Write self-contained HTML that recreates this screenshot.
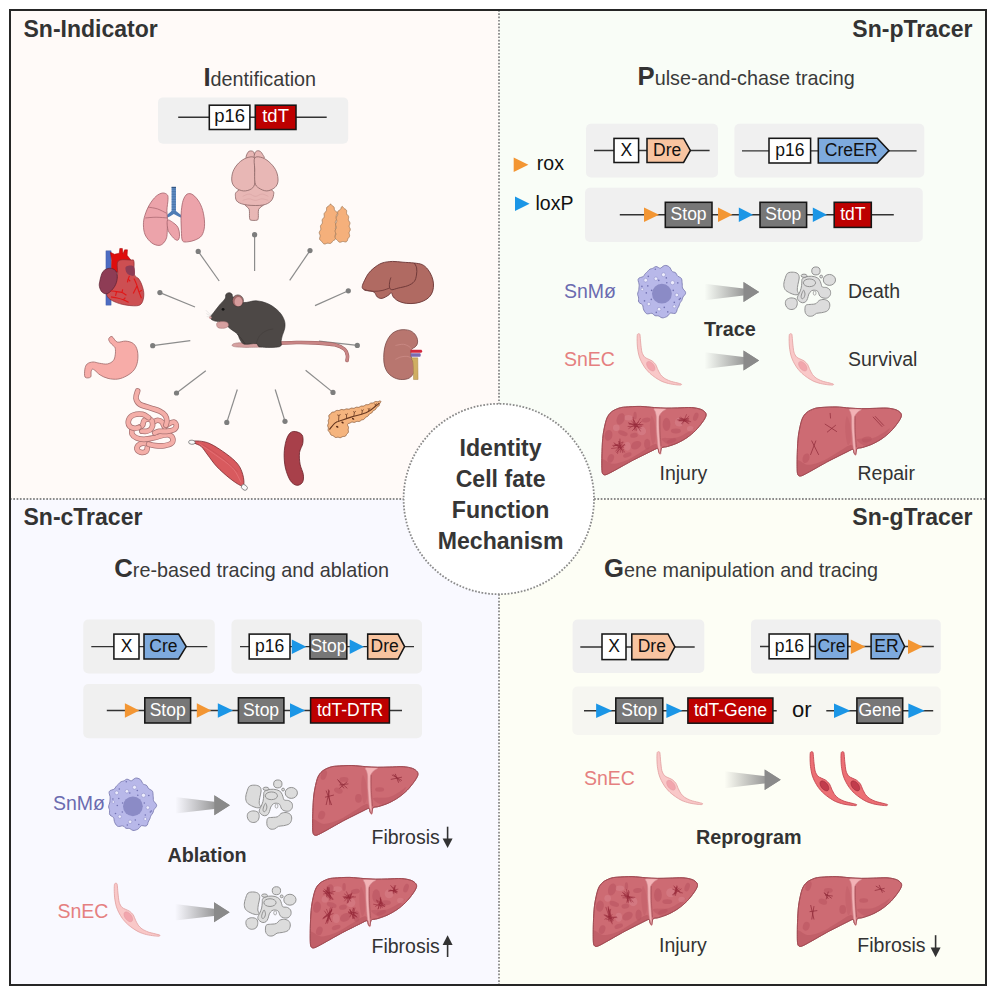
<!DOCTYPE html><html><head><meta charset="utf-8"><title>Sn tracers</title><style>html,body{margin:0;padding:0;background:#fff;width:996px;height:996px;overflow:hidden}svg{display:block}text{font-family:"Liberation Sans",sans-serif}</style></head><body>
<svg width="996" height="996" viewBox="0 0 996 996">
<defs>
<linearGradient id="ga" x1="0" x2="1" y1="0" y2="0"><stop offset="0" stop-color="#8a8a8a" stop-opacity="0"/><stop offset="0.75" stop-color="#8a8a8a" stop-opacity="0.85"/><stop offset="1" stop-color="#888"/></linearGradient>
<g id="macro"><path d="M49.04,26.3 C49.25,26.76 49.38,27.26 49.33,27.73 C49.28,28.2 49.01,28.67 48.74,29.1 C48.46,29.54 48.01,29.94 47.67,30.34 C47.34,30.74 46.99,31.11 46.75,31.5 C46.5,31.9 46.37,32.3 46.23,32.71 C46.09,33.12 46.04,33.55 45.91,33.96 C45.77,34.36 45.63,34.77 45.43,35.14 C45.23,35.52 44.94,35.86 44.69,36.2 C44.44,36.54 44.14,36.85 43.92,37.2 C43.69,37.54 43.51,37.9 43.35,38.29 C43.19,38.67 43.1,39.1 42.97,39.51 C42.84,39.92 42.72,40.36 42.56,40.75 C42.39,41.15 42.18,41.52 41.97,41.89 C41.77,42.27 41.53,42.61 41.33,43.01 C41.14,43.41 40.98,43.83 40.82,44.29 C40.67,44.76 40.58,45.31 40.42,45.79 C40.25,46.27 40.1,46.81 39.83,47.18 C39.56,47.54 39.21,47.84 38.78,47.99 C38.36,48.13 37.81,48.09 37.29,48.05 C36.77,48 36.18,47.78 35.68,47.71 C35.19,47.65 34.72,47.55 34.32,47.64 C33.93,47.72 33.62,47.94 33.31,48.21 C32.99,48.49 32.75,48.93 32.46,49.3 C32.16,49.66 31.88,50.09 31.55,50.4 C31.22,50.72 30.86,50.98 30.49,51.2 C30.12,51.42 29.72,51.56 29.33,51.72 C28.94,51.87 28.54,52.02 28.14,52.14 C27.73,52.26 27.32,52.4 26.91,52.45 C26.49,52.49 26.07,52.5 25.65,52.4 C25.23,52.3 24.81,52.08 24.4,51.86 C23.99,51.63 23.6,51.29 23.22,51.06 C22.83,50.84 22.46,50.6 22.08,50.49 C21.7,50.37 21.32,50.37 20.92,50.36 C20.53,50.35 20.11,50.46 19.72,50.43 C19.33,50.4 18.92,50.35 18.56,50.18 C18.2,50.01 17.87,49.7 17.55,49.41 C17.23,49.12 16.96,48.71 16.64,48.45 C16.32,48.19 16.02,47.96 15.63,47.87 C15.25,47.79 14.81,47.86 14.34,47.93 C13.87,48.01 13.31,48.23 12.8,48.32 C12.28,48.41 11.72,48.52 11.25,48.48 C10.78,48.43 10.35,48.28 9.97,48.06 C9.6,47.83 9.29,47.48 9,47.13 C8.71,46.79 8.47,46.38 8.23,45.98 C7.99,45.58 7.75,45.18 7.56,44.75 C7.37,44.32 7.19,43.87 7.07,43.4 C6.94,42.93 6.88,42.41 6.8,41.92 C6.72,41.43 6.7,40.91 6.58,40.48 C6.46,40.05 6.33,39.66 6.07,39.34 C5.82,39.02 5.44,38.79 5.05,38.54 C4.66,38.29 4.13,38.11 3.73,37.84 C3.33,37.57 2.89,37.28 2.63,36.92 C2.37,36.56 2.23,36.11 2.16,35.65 C2.09,35.2 2.19,34.68 2.22,34.2 C2.25,33.72 2.35,33.23 2.34,32.78 C2.32,32.33 2.24,31.91 2.12,31.49 C2.01,31.07 1.79,30.67 1.66,30.25 C1.53,29.82 1.37,29.39 1.34,28.96 C1.31,28.52 1.37,28.06 1.47,27.62 C1.57,27.17 1.78,26.73 1.93,26.3 C2.08,25.87 2.26,25.45 2.37,25.03 C2.47,24.62 2.53,24.2 2.57,23.79 C2.62,23.37 2.61,22.95 2.64,22.52 C2.67,22.1 2.71,21.68 2.75,21.26 C2.79,20.83 2.87,20.42 2.87,19.98 C2.87,19.54 2.85,19.09 2.76,18.6 C2.67,18.1 2.48,17.56 2.33,17.02 C2.18,16.47 1.93,15.85 1.86,15.3 C1.79,14.76 1.75,14.19 1.91,13.74 C2.07,13.3 2.4,12.92 2.8,12.64 C3.21,12.35 3.81,12.2 4.33,12.02 C4.85,11.85 5.46,11.77 5.92,11.59 C6.38,11.41 6.78,11.22 7.11,10.96 C7.43,10.69 7.64,10.34 7.87,9.99 C8.11,9.65 8.28,9.24 8.51,8.89 C8.75,8.55 9.01,8.22 9.29,7.92 C9.57,7.62 9.9,7.37 10.21,7.1 C10.51,6.82 10.82,6.56 11.11,6.26 C11.4,5.96 11.66,5.61 11.95,5.29 C12.23,4.97 12.51,4.61 12.83,4.34 C13.15,4.07 13.5,3.84 13.87,3.67 C14.25,3.49 14.66,3.42 15.06,3.31 C15.45,3.2 15.86,3.14 16.23,2.99 C16.61,2.84 16.96,2.64 17.32,2.42 C17.67,2.2 18.01,1.87 18.38,1.66 C18.74,1.46 19.12,1.24 19.53,1.19 C19.93,1.14 20.37,1.23 20.8,1.39 C21.22,1.54 21.67,1.89 22.08,2.11 C22.49,2.34 22.89,2.65 23.27,2.74 C23.66,2.84 24.02,2.82 24.4,2.67 C24.78,2.52 25.16,2.17 25.57,1.86 C25.98,1.55 26.41,1.11 26.84,0.82 C27.28,0.54 27.74,0.28 28.18,0.15 C28.62,0.02 29.07,0.01 29.5,0.04 C29.92,0.06 30.34,0.19 30.75,0.32 C31.16,0.45 31.57,0.61 31.96,0.81 C32.34,1.02 32.73,1.25 33.06,1.57 C33.4,1.89 33.71,2.29 33.98,2.72 C34.26,3.15 34.47,3.69 34.7,4.15 C34.94,4.6 35.12,5.1 35.38,5.45 C35.65,5.81 35.93,6.08 36.27,6.28 C36.61,6.47 37.03,6.53 37.43,6.65 C37.83,6.77 38.3,6.82 38.67,7 C39.04,7.18 39.38,7.42 39.65,7.74 C39.93,8.05 40.1,8.49 40.31,8.87 C40.51,9.26 40.64,9.71 40.87,10.05 C41.1,10.4 41.37,10.69 41.71,10.94 C42.06,11.19 42.51,11.34 42.93,11.55 C43.34,11.76 43.84,11.94 44.21,12.21 C44.58,12.48 44.91,12.8 45.14,13.18 C45.37,13.56 45.48,14.03 45.57,14.48 C45.66,14.94 45.66,15.44 45.69,15.91 C45.73,16.38 45.75,16.85 45.79,17.31 C45.82,17.76 45.89,18.2 45.92,18.64 C45.95,19.08 45.98,19.52 45.99,19.96 C46,20.4 45.96,20.84 46,21.27 C46.03,21.7 46.05,22.11 46.2,22.52 C46.35,22.92 46.6,23.3 46.9,23.71 C47.2,24.11 47.67,24.51 48.02,24.94 C48.38,25.38 48.82,25.84 49.04,26.3Z" fill="#b8b8e9" stroke="#7e7eb2" stroke-width="0.9"/><circle cx="25.6" cy="28.3" r="9.9" fill="#8b8bc6"/><circle cx="9.4" cy="14.8" r="1.9" fill="#ececfc" stroke="#9595cc" stroke-width="0.6"/><circle cx="19.6" cy="13.3" r="1.8" fill="#ececfc" stroke="#9595cc" stroke-width="0.6"/><circle cx="27.2" cy="9.3" r="2.0" fill="#ececfc" stroke="#9595cc" stroke-width="0.6"/><circle cx="36.2" cy="17.3" r="2.1" fill="#ececfc" stroke="#9595cc" stroke-width="0.6"/><circle cx="40.5" cy="29.6" r="1.8" fill="#ececfc" stroke="#9595cc" stroke-width="0.6"/><circle cx="12.5" cy="38.6" r="1.7" fill="#ececfc" stroke="#9595cc" stroke-width="0.6"/><circle cx="22.8" cy="43.8" r="1.8" fill="#ececfc" stroke="#9595cc" stroke-width="0.6"/><circle cx="38" cy="41" r="1.5" fill="#ececfc" stroke="#9595cc" stroke-width="0.6"/><circle cx="6" cy="24" r="1.3" fill="#ececfc" stroke="#9595cc" stroke-width="0.6"/><circle cx="19" cy="3.8" r="0.8" fill="#7373b3"/><circle cx="12" cy="11" r="0.8" fill="#7373b3"/><circle cx="22.5" cy="15" r="0.8" fill="#7373b3"/><circle cx="30" cy="12.5" r="0.8" fill="#7373b3"/><circle cx="30.5" cy="17.3" r="0.8" fill="#7373b3"/><circle cx="41.5" cy="17.5" r="0.8" fill="#7373b3"/><circle cx="5.6" cy="21" r="0.8" fill="#7373b3"/><circle cx="11.5" cy="20.5" r="0.8" fill="#7373b3"/><circle cx="10" cy="27.5" r="0.8" fill="#7373b3"/><circle cx="37" cy="25" r="0.8" fill="#7373b3"/><circle cx="43" cy="34" r="0.8" fill="#7373b3"/><circle cx="38" cy="37" r="0.8" fill="#7373b3"/><circle cx="8.2" cy="35.5" r="0.8" fill="#7373b3"/><circle cx="15" cy="34" r="0.8" fill="#7373b3"/><circle cx="28" cy="42" r="0.8" fill="#7373b3"/><circle cx="20" cy="47" r="0.8" fill="#7373b3"/><circle cx="31.5" cy="46.5" r="0.8" fill="#7373b3"/><circle cx="44" cy="33" r="0.8" fill="#7373b3"/><circle cx="15.3" cy="25" r="0.8" fill="#7373b3"/></g>
<g id="ecp"><path d="M8.43,5.72 C8.78,5.71 9.63,5.38 9.94,6.63 C10.24,7.87 10.46,12.73 10.72,15.06 C10.99,17.39 11.43,22.25 11.93,24.1 C12.43,25.94 13.68,28.02 14.46,28.92 C15.24,29.82 16.77,30.32 17.77,30.84 C18.78,31.37 20.94,32.08 21.99,32.83 C23.03,33.58 24.82,35.28 25.6,36.45 C26.38,37.61 27.19,40.24 27.83,41.57 C28.47,42.89 29.59,45.26 30.42,46.39 C31.25,47.51 32.75,49.12 34.04,50 C35.32,50.88 38.33,52.37 40.06,53.01 C41.79,53.65 45.49,54.42 46.99,54.82 C48.49,55.22 50.84,55.73 51.33,56.02 C51.81,56.32 51.34,56.95 50.6,57.05 C49.86,57.14 47.39,56.95 45.78,56.75 C44.18,56.55 40.48,56.02 38.55,55.54 C36.63,55.06 33.09,53.94 31.33,53.13 C29.56,52.33 26.83,50.56 25.3,49.52 C23.78,48.47 21.24,46.59 19.88,45.3 C18.51,44.02 16.18,41.41 15.06,39.88 C13.94,38.35 12.25,35.46 11.45,33.86 C10.64,32.25 9.56,29.69 9.04,27.83 C8.51,25.97 7.79,21.98 7.53,19.88 C7.27,17.78 7.13,13.8 7.11,12.05 C7.08,10.3 7.17,7.59 7.35,6.75 C7.53,5.9 8.09,5.74 8.43,5.72Z" fill="#f9c8c8" stroke="#e2a0a0" stroke-width="0.8"/><ellipse cx="20.78" cy="38.25" rx="3.13" ry="5.54" transform="rotate(-38 20.78 38.25)" fill="#f2a6ad" stroke="#e49aa2" stroke-width="0.5"/></g>
<g id="ecr"><path d="M8.43,5.72 C8.78,5.71 9.63,5.38 9.94,6.63 C10.24,7.87 10.46,12.73 10.72,15.06 C10.99,17.39 11.43,22.25 11.93,24.1 C12.43,25.94 13.68,28.02 14.46,28.92 C15.24,29.82 16.77,30.32 17.77,30.84 C18.78,31.37 20.94,32.08 21.99,32.83 C23.03,33.58 24.82,35.28 25.6,36.45 C26.38,37.61 27.19,40.24 27.83,41.57 C28.47,42.89 29.59,45.26 30.42,46.39 C31.25,47.51 32.75,49.12 34.04,50 C35.32,50.88 38.33,52.37 40.06,53.01 C41.79,53.65 45.49,54.42 46.99,54.82 C48.49,55.22 50.84,55.73 51.33,56.02 C51.81,56.32 51.34,56.95 50.6,57.05 C49.86,57.14 47.39,56.95 45.78,56.75 C44.18,56.55 40.48,56.02 38.55,55.54 C36.63,55.06 33.09,53.94 31.33,53.13 C29.56,52.33 26.83,50.56 25.3,49.52 C23.78,48.47 21.24,46.59 19.88,45.3 C18.51,44.02 16.18,41.41 15.06,39.88 C13.94,38.35 12.25,35.46 11.45,33.86 C10.64,32.25 9.56,29.69 9.04,27.83 C8.51,25.97 7.79,21.98 7.53,19.88 C7.27,17.78 7.13,13.8 7.11,12.05 C7.08,10.3 7.17,7.59 7.35,6.75 C7.53,5.9 8.09,5.74 8.43,5.72Z" fill="#ec6f74" stroke="#c0424c" stroke-width="0.8"/><ellipse cx="20.78" cy="38.25" rx="3.13" ry="5.54" transform="rotate(-38 20.78 38.25)" fill="#c23c4c" stroke="#962a38" stroke-width="0.5"/></g>
<g id="dead"><path d="M9.64,13.17 C11.03,12.1 13.71,12.1 15.42,12.21 C17.14,12.32 18.96,12.85 19.92,13.82 C20.89,14.78 21.21,16.23 21.21,17.99 C21.21,19.76 20.24,22.39 19.92,24.42 C19.6,26.46 19.17,28.6 19.28,30.21 C19.39,31.81 20.99,33.31 20.57,34.06 C20.14,34.81 18.21,34.92 16.71,34.7 C15.21,34.49 13.17,33.63 11.57,32.78 C9.96,31.92 8.03,30.96 7.07,29.56 C6.11,28.17 5.78,26.24 5.78,24.42 C5.78,22.6 6.43,20.51 7.07,18.64 C7.71,16.76 8.25,14.25 9.64,13.17Z" fill="#dcdcdc" stroke="#929292" stroke-width="1.0"/><path d="M8.35,39.85 C9.27,38.88 11.25,38.02 12.85,37.92 C14.46,37.81 16.92,38.24 17.99,39.2 C19.07,40.17 19.39,42.2 19.28,43.7 C19.17,45.2 18.42,47.24 17.35,48.2 C16.28,49.16 14.25,49.59 12.85,49.49 C11.46,49.38 9.91,48.52 9,47.56 C8.09,46.59 7.5,44.99 7.39,43.7 C7.28,42.42 7.44,40.81 8.35,39.85Z" fill="#dcdcdc" stroke="#929292" stroke-width="1.0"/><path d="M24.42,18.64 C25.49,17.51 28.17,16.71 30.21,16.39 C32.24,16.07 34.81,16.23 36.63,16.71 C38.45,17.19 40.06,18.1 41.13,19.28 C42.2,20.46 42.52,22.49 43.06,23.78 C43.59,25.06 43.38,26.35 44.34,26.99 C45.31,27.63 47.56,27.1 48.84,27.63 C50.13,28.17 51.47,29.03 52.06,30.21 C52.65,31.38 52.81,33.42 52.38,34.7 C51.95,35.99 50.72,37.38 49.49,37.92 C48.25,38.45 46.27,38.24 44.99,37.92 C43.7,37.6 42.63,37.06 41.77,35.99 C40.92,34.92 40.7,32.46 39.85,31.49 C38.99,30.53 37.7,30.31 36.63,30.21 C35.56,30.1 34.38,30.21 33.42,30.85 C32.46,31.49 31.49,32.78 30.85,34.06 C30.21,35.35 30.1,37.28 29.56,38.56 C29.03,39.85 28.49,41.08 27.63,41.77 C26.78,42.47 25.49,42.84 24.42,42.74 C23.35,42.63 22.07,41.93 21.21,41.13 C20.35,40.33 19.28,39.2 19.28,37.92 C19.28,36.63 20.57,35.03 21.21,33.42 C21.85,31.81 22.71,29.99 23.14,28.28 C23.56,26.56 23.56,24.74 23.78,23.14 C23.99,21.53 23.35,19.76 24.42,18.64Z" fill="#dcdcdc" stroke="#929292" stroke-width="1.0"/><ellipse cx="31.49" cy="22.81" rx="6.11" ry="3.86" fill="none" stroke="#929292" stroke-width="1.0"/><path d="M25.71,30.21 C26.14,30.53 26.99,32.78 26.99,34.06 C26.99,35.35 26.24,37.17 25.71,37.92 C25.17,38.67 24.21,38.88 23.78,38.56 C23.35,38.24 23.03,37.06 23.14,35.99 C23.24,34.92 23.99,33.1 24.42,32.13 C24.85,31.17 25.28,29.88 25.71,30.21Z" fill="none" stroke="#929292" stroke-width="1.0"/><ellipse cx="36.63" cy="33.10" rx="1.41" ry="2.06" fill="none" stroke="#9b9b9b" stroke-width="0.8"/><ellipse cx="37.92" cy="10.93" rx="4.18" ry="3.98" fill="#dcdcdc" stroke="#929292" stroke-width="1.0"/><ellipse cx="51.41" cy="19.92" rx="6.11" ry="5.46" fill="#dcdcdc" stroke="#929292" stroke-width="1.0"/><ellipse cx="43.19" cy="16.58" rx="1.41" ry="1.41" fill="#dcdcdc" stroke="#929292" stroke-width="1.0"/><ellipse cx="26.03" cy="15.75" rx="2.89" ry="1.61" fill="#dcdcdc" stroke="#929292" stroke-width="1.0"/><path d="M28.28,44.99 C29.35,44.34 31.81,44.56 33.42,44.34 C35.03,44.13 36.63,44.34 37.92,43.7 C39.2,43.06 39.74,41.18 41.13,40.49 C42.52,39.79 44.67,39.31 46.27,39.52 C47.88,39.74 49.86,40.65 50.77,41.77 C51.68,42.9 51.95,44.77 51.74,46.27 C51.52,47.77 50.82,49.7 49.49,50.77 C48.15,51.84 45.52,52.27 43.7,52.7 C41.88,53.13 40.06,52.81 38.56,53.34 C37.06,53.88 36.1,55.48 34.7,55.91 C33.31,56.34 31.44,56.45 30.21,55.91 C28.97,55.38 27.85,53.98 27.31,52.7 C26.78,51.41 26.83,49.49 26.99,48.2 C27.15,46.92 27.21,45.63 28.28,44.99Z" fill="#dcdcdc" stroke="#929292" stroke-width="1.0"/></g>
<linearGradient id="garr" x1="0" x2="1" y1="0" y2="0"><stop offset="0" stop-color="#8c8c8c" stop-opacity="0"/><stop offset="0.7" stop-color="#8c8c8c" stop-opacity="0.85"/><stop offset="1" stop-color="#888"/></linearGradient>
<g id="garrow"><path d="M0,-8.3 L39,-3.6 L39,-10 L54.6,0 L39,10 L39,3.6 L0,8.3Z" fill="url(#garr)"/><path d="M39,-10 L54.6,0 L39,10Z" fill="#8a8a8a"/></g>
<path id="livsil" d="M9.47,4.97 C11.32,3.34 14.84,1.9 16.97,1.15 C19.11,0.41 20.42,0.26 23.67,0 C26.93,-0.26 34.35,-0.66 38.68,-0.58 C43.01,-0.49 48.73,0.32 52.54,0.58 C56.35,0.84 60.62,1.1 64.09,1.15 C67.55,1.21 71.82,1.01 75.64,0.92 C79.45,0.84 86.03,0.37 89.49,0.58 C92.96,0.79 96.65,1.56 98.73,2.31 C100.81,3.05 102.57,4.5 103.35,5.54 C104.13,6.58 104.36,7.77 103.93,9.24 C103.49,10.71 102.02,13.18 100.46,15.36 C98.9,17.54 95.85,21.45 93.53,23.79 C91.21,26.13 87.74,29.04 84.99,30.95 C82.23,32.85 78.12,35.14 75.17,36.49 C72.23,37.84 67.63,39.28 65.36,39.95 C63.09,40.63 61.02,40.4 60.05,40.99 C59.08,41.58 59.19,42.98 58.89,43.88 C58.6,44.78 58.41,46.79 58.08,47 C57.75,47.21 57.08,46.05 56.7,45.27 C56.32,44.49 56.69,41.89 55.54,41.8 C54.4,41.71 51.26,43.65 49.08,44.69 C46.89,45.73 43.59,47.43 40.99,48.73 C38.39,50.03 34.7,51.79 31.76,53.35 C28.81,54.91 24.31,57.48 21.36,59.12 C18.42,60.77 14.72,62.93 12.12,64.32 C9.53,65.7 5.74,67.88 4.04,68.36 C2.34,68.85 1.43,68.45 0.81,67.55 C0.18,66.65 0.01,65.73 -0.12,62.36 C-0.24,58.98 -0.19,50.23 0,45.03 C0.19,39.84 0.46,32.67 1.15,27.71 C1.85,22.76 3.37,15.42 4.62,12.01 C5.87,8.6 7.62,6.59 9.47,4.97Z"/>
<clipPath id="livclip"><use href="#livsil"/></clipPath>
<g id="liver"><use href="#livsil" fill="#cd6b73" stroke="#a04a52" stroke-width="0.8"/><g clip-path="url(#livclip)"><path d="M-1.2,52.93 C0.79,50.61 6.81,57.35 10.95,57.35 C15.09,57.35 22.11,54.75 26.42,52.93 C30.72,51.11 35.69,47.52 39.67,45.2 C43.64,42.88 50.6,37.97 52.92,37.47 C55.24,36.97 57.12,39.57 55.13,41.89 C53.14,44.21 44.64,49.62 39.67,52.93 C34.7,56.24 27.3,60.99 22,63.97 C16.7,66.96 7.97,71.48 4.33,72.81 C0.68,74.13 -1.47,75.79 -2.3,72.81 C-3.13,69.83 -3.18,55.25 -1.2,52.93Z" fill="#b8555f" opacity="0.55"/><path d="M49.61,8.75 C50.35,8.75 52.34,14.11 52.92,17.59 C53.5,21.07 53.8,28.96 53.47,31.95 C53.14,34.93 51.46,37.97 50.71,37.47 C49.97,36.97 48.92,31.61 48.5,28.63 C48.09,25.65 47.79,20.57 47.95,17.59 C48.12,14.61 48.86,8.75 49.61,8.75Z" fill="#b8555f" opacity="0.3"/><path d="M59.55,31.95 C60.38,30.79 71.03,31.84 75.01,30.84 C78.99,29.85 83.4,26.81 86.05,25.32 C88.7,23.83 93.01,19.91 92.68,20.9 C92.35,21.9 87.32,29.3 83.85,31.95 C80.37,34.6 73.13,38.57 69.49,38.57 C65.84,38.57 58.72,33.11 59.55,31.95Z" fill="#b8555f" opacity="0.45"/></g><path d="M52.37,1.57 C53.8,1.16 62.93,1.35 63.97,1.8 C65,2.24 61.01,3.81 60.1,4.89 C59.19,5.96 57.52,7.43 57.12,9.86 C56.72,12.29 56.97,19.13 57.12,23.11 C57.27,27.09 57.97,36.56 58.22,39.68 C58.47,42.8 59.01,45.45 59,46.52 C58.98,47.6 58.36,47.74 58.11,47.74 C57.86,47.74 57.41,47.6 57.12,46.52 C56.82,45.45 56.24,42.8 55.9,39.68 C55.56,36.56 54.8,27.09 54.58,23.11 C54.36,19.13 54.42,12.29 54.25,9.86 C54.07,7.43 53.5,5.99 53.25,4.89 C53,3.78 50.94,1.99 52.37,1.57Z" fill="#f3b3b6" stroke="#d08a90" stroke-width="0.6"/><use href="#livsil" fill="none" stroke="#a04a52" stroke-width="0.9"/><path d="M57.89,8.75 C57.91,11.33 57.8,19.06 58,24.22 C58.2,29.37 58.92,37.1 59.11,39.68" fill="none" stroke="#a85058" stroke-width="0.7"/></g>
</defs>
<rect x="10" y="10" width="489" height="489" fill="#fffaf8"/>
<rect x="499" y="10" width="486.5" height="489" fill="#f9fdf7"/>
<rect x="10" y="499" width="489" height="486.5" fill="#f9f9ff"/>
<rect x="499" y="499" width="486.5" height="486.5" fill="#fdfef5"/>
<line x1="499" y1="10" x2="499" y2="985" stroke="#8a8a8a" stroke-width="1.8" stroke-dasharray="1.7 1.6"/>
<line x1="10" y1="499" x2="985" y2="499" stroke="#8a8a8a" stroke-width="1.8" stroke-dasharray="1.7 1.6"/>
<rect x="10" y="10" width="976" height="975" fill="none" stroke="#262626" stroke-width="2"/>
<circle cx="498.8" cy="499" r="95.2" fill="#fff" stroke="#8a8a8a" stroke-width="1.8" stroke-dasharray="1.7 1.6"/>
<text x="500.6" y="456.3" font-size="23.1" font-weight="bold" fill="#363636" text-anchor="middle">Identity</text>
<text x="500.6" y="487.2" font-size="23.1" font-weight="bold" fill="#363636" text-anchor="middle">Cell fate</text>
<text x="500.6" y="518.3" font-size="23.1" font-weight="bold" fill="#363636" text-anchor="middle">Function</text>
<text x="500.6" y="549.0" font-size="23.1" font-weight="bold" fill="#363636" text-anchor="middle">Mechanism</text>
<text x="23.5" y="36.8" font-size="23" font-weight="bold" fill="#333333">Sn-Indicator</text>
<text x="972.5" y="37.4" font-size="23" font-weight="bold" fill="#333333" text-anchor="end">Sn-pTracer</text>
<text x="23.5" y="524.5" font-size="23" font-weight="bold" fill="#333333">Sn-cTracer</text>
<text x="972.5" y="524.6" font-size="23" font-weight="bold" fill="#333333" text-anchor="end">Sn-gTracer</text>
<text x="203.4" y="85.5" fill="#3a3a3a"><tspan font-size="25.7" font-weight="bold" fill="#333">I</tspan><tspan font-size="19.8">dentification</tspan></text>
<text x="637.5" y="84.5" fill="#3a3a3a"><tspan font-size="25.7" font-weight="bold" fill="#333">P</tspan><tspan font-size="19.8">ulse-and-chase tracing</tspan></text>
<text x="114.3" y="577.0" fill="#3a3a3a"><tspan font-size="25.7" font-weight="bold" fill="#333">C</tspan><tspan font-size="19.8">re-based tracing and ablation</tspan></text>
<text x="604.0" y="576.6" fill="#3a3a3a"><tspan font-size="25.7" font-weight="bold" fill="#333">G</tspan><tspan font-size="19.8">ene manipulation and tracing</tspan></text>
<rect x="158" y="97.4" width="190.2" height="46.4" rx="5" fill="#f0f0f0"/>
<line x1="178.2" y1="117.3" x2="326.7" y2="117.3" stroke="#333" stroke-width="1.4"/>
<rect x="209.3" y="105.2" width="40.6" height="24.3" fill="#fff" stroke="#161616" stroke-width="1.55"/>
<text x="229.6" y="122.0" font-size="18.5" fill="#111" text-anchor="middle">p16</text>
<rect x="255.3" y="105.2" width="40.7" height="24.3" fill="#bd0000" stroke="#161616" stroke-width="1.55"/>
<text x="275.6" y="122.0" font-size="18.5" fill="#fff" text-anchor="middle">tdT</text>
<rect x="586" y="123.7" width="132.0" height="53.8" rx="5" fill="#f0f0f0"/>
<line x1="594" y1="150.5" x2="709.6" y2="150.5" stroke="#333" stroke-width="1.4"/>
<rect x="614" y="138.4" width="24.6" height="24.1" fill="#fff" stroke="#161616" stroke-width="1.55"/>
<text x="626.3" y="155.8" font-size="17.5" fill="#111" text-anchor="middle">X</text>
<path d="M647,138.4 L683.6,138.4 L690.4,150.45 L683.6,162.5 L647,162.5 Z" fill="#f8c4a0" stroke="#161616" stroke-width="1.55" stroke-linejoin="miter"/>
<text x="667.2" y="155.8" font-size="17.5" fill="#111" text-anchor="middle">Dre</text>
<rect x="734.4" y="123.7" width="189.9" height="53.7" rx="5" fill="#f0f0f0"/>
<line x1="742" y1="150.9" x2="916.6" y2="150.9" stroke="#333" stroke-width="1.4"/>
<rect x="769" y="138.3" width="41.6" height="24.7" fill="#fff" stroke="#161616" stroke-width="1.55"/>
<text x="789.8" y="156.0" font-size="17.5" fill="#111" text-anchor="middle">p16</text>
<path d="M818.3,138.3 L877.3,138.3 L889,150.65 L877.3,163 L818.3,163 Z" fill="#7eaadd" stroke="#161616" stroke-width="1.55" stroke-linejoin="miter"/>
<text x="851.1" y="156.0" font-size="17.5" fill="#111" text-anchor="middle">CreER</text>
<rect x="585" y="187.8" width="337.8" height="54.2" rx="5" fill="#f0f0f0"/>
<line x1="619.8" y1="214.7" x2="893.8" y2="214.7" stroke="#333" stroke-width="1.4"/>
<path d="M644,207.6 L659,214.8 L644,222.0 Z" fill="#f39633"/>
<rect x="665.3" y="202.3" width="46.7" height="25.1" fill="#777" stroke="#161616" stroke-width="1.55"/>
<text x="688.6" y="220.2" font-size="17.5" fill="#fff" text-anchor="middle">Stop</text>
<path d="M718,207.6 L732.5,214.8 L718,222.0 Z" fill="#f39633"/>
<path d="M738.8,207.6 L753,214.8 L738.8,222.0 Z" fill="#1b96e6"/>
<rect x="760" y="202.3" width="46.6" height="25.1" fill="#777" stroke="#161616" stroke-width="1.55"/>
<text x="783.3" y="220.2" font-size="17.5" fill="#fff" text-anchor="middle">Stop</text>
<path d="M812.8,207.6 L827,214.8 L812.8,222.0 Z" fill="#1b96e6"/>
<rect x="834.2" y="202.3" width="37.1" height="25.1" fill="#bd0000" stroke="#161616" stroke-width="1.55"/>
<text x="852.8" y="220.2" font-size="17.5" fill="#fff" text-anchor="middle">tdT</text>
<path d="M513.7,157.6 L528.4,164.8 L513.7,172.0 Z" fill="#f39633"/>
<text x="536.8" y="169.8" font-size="19.5" fill="#111">rox</text>
<path d="M515,196.5 L529.6,203.7 L515,210.9 Z" fill="#1b96e6"/>
<text x="535.5" y="210" font-size="19.5" fill="#111">loxP</text>
<rect x="83.3" y="619.5" width="131.5" height="53.9" rx="5" fill="#f0f0f0"/>
<line x1="91.3" y1="646.6" x2="207.3" y2="646.6" stroke="#333" stroke-width="1.4"/>
<rect x="113.9" y="634.1" width="25.1" height="24.9" fill="#fff" stroke="#161616" stroke-width="1.55"/>
<text x="126.5" y="651.8" font-size="17.5" fill="#111" text-anchor="middle">X</text>
<path d="M144,634.1 L178.6,634.1 L186.2,646.55 L178.6,659 L144,659 Z" fill="#7eaadd" stroke="#161616" stroke-width="1.55" stroke-linejoin="miter"/>
<text x="163.4" y="651.8" font-size="17.5" fill="#111" text-anchor="middle">Cre</text>
<rect x="231.5" y="619.5" width="190.5" height="53.9" rx="5" fill="#f0f0f0"/>
<line x1="240" y1="646.6" x2="414" y2="646.6" stroke="#333" stroke-width="1.4"/>
<rect x="249.2" y="634.1" width="40.8" height="24.9" fill="#fff" stroke="#161616" stroke-width="1.55"/>
<text x="269.6" y="651.8" font-size="17.5" fill="#111" text-anchor="middle">p16</text>
<path d="M291.8,639.6 L306.3,646.8 L291.8,654.0 Z" fill="#1b96e6"/>
<rect x="310" y="634.1" width="36.8" height="24.9" fill="#777" stroke="#161616" stroke-width="1.55"/>
<text x="328.4" y="651.8" font-size="17.5" fill="#fff" text-anchor="middle">Stop</text>
<path d="M349.7,639.6 L364,646.8 L349.7,654.0 Z" fill="#1b96e6"/>
<path d="M367.7,634.1 L398,634.1 L404.6,646.55 L398,659 L367.7,659 Z" fill="#f8c4a0" stroke="#161616" stroke-width="1.55" stroke-linejoin="miter"/>
<text x="384.7" y="651.8" font-size="17.5" fill="#111" text-anchor="middle">Dre</text>
<rect x="83.3" y="684" width="338.7" height="54.3" rx="5" fill="#f0f0f0"/>
<line x1="106.8" y1="710.5" x2="402" y2="710.5" stroke="#333" stroke-width="1.4"/>
<path d="M124.9,703.3 L139.3,710.5 L124.9,717.7 Z" fill="#f39633"/>
<rect x="144.8" y="697.8" width="45.8" height="25.2" fill="#777" stroke="#161616" stroke-width="1.55"/>
<text x="167.7" y="715.7" font-size="17.5" fill="#fff" text-anchor="middle">Stop</text>
<path d="M196.8,703.3 L211.2,710.5 L196.8,717.7 Z" fill="#f39633"/>
<path d="M217.8,703.3 L233,710.5 L217.8,717.7 Z" fill="#1b96e6"/>
<rect x="238.4" y="697.8" width="45.5" height="25.2" fill="#777" stroke="#161616" stroke-width="1.55"/>
<text x="261.1" y="715.7" font-size="17.5" fill="#fff" text-anchor="middle">Stop</text>
<path d="M290,703.3 L305.2,710.5 L290,717.7 Z" fill="#1b96e6"/>
<rect x="310.6" y="697.8" width="78.8" height="25.2" fill="#bd0000" stroke="#161616" stroke-width="1.55"/>
<text x="350.0" y="715.7" font-size="17.5" fill="#fff" text-anchor="middle">tdT-DTR</text>
<rect x="572.6" y="619.5" width="131.7" height="53.5" rx="5" fill="#f0f0f0"/>
<line x1="580.3" y1="647" x2="694.7" y2="647" stroke="#333" stroke-width="1.4"/>
<rect x="602" y="634" width="24.0" height="25.6" fill="#fff" stroke="#161616" stroke-width="1.55"/>
<text x="614.0" y="652.1" font-size="17.5" fill="#111" text-anchor="middle">X</text>
<path d="M631.8,634 L668,634 L674.9,646.8 L668,659.6 L631.8,659.6 Z" fill="#f8c4a0" stroke="#161616" stroke-width="1.55" stroke-linejoin="miter"/>
<text x="651.8" y="652.1" font-size="17.5" fill="#111" text-anchor="middle">Dre</text>
<rect x="751" y="619.4" width="189.8" height="54.2" rx="5" fill="#f0f0f0"/>
<line x1="760" y1="646.5" x2="933.8" y2="646.5" stroke="#333" stroke-width="1.4"/>
<rect x="769.1" y="634" width="40.6" height="24.8" fill="#fff" stroke="#161616" stroke-width="1.55"/>
<text x="789.4" y="651.7" font-size="17.5" fill="#111" text-anchor="middle">p16</text>
<rect x="815.3" y="634" width="32.5" height="24.8" fill="#7eaadd" stroke="#161616" stroke-width="1.55"/>
<text x="831.5" y="651.7" font-size="17.5" fill="#111" text-anchor="middle">Cre</text>
<path d="M850.8,639.6 L865.5,646.8 L850.8,654.0 Z" fill="#f39633"/>
<path d="M871.1,634 L898.6,634 L904.6,646.4 L898.6,658.8 L871.1,658.8 Z" fill="#7eaadd" stroke="#161616" stroke-width="1.55" stroke-linejoin="miter"/>
<text x="886.5" y="651.7" font-size="17.5" fill="#111" text-anchor="middle">ER</text>
<path d="M908,639.6 L922.7,646.8 L908,654.0 Z" fill="#f39633"/>
<rect x="572.4" y="686.6" width="368.4" height="48.3" rx="5" fill="#f6f6f1"/>
<line x1="584" y1="710.7" x2="776.7" y2="710.7" stroke="#333" stroke-width="1.4"/>
<line x1="826.3" y1="710.7" x2="933.2" y2="710.7" stroke="#333" stroke-width="1.4"/>
<path d="M596.1,703.5 L612.2,710.7 L596.1,718.0 Z" fill="#1b96e6"/>
<rect x="615.8" y="698" width="47.0" height="25.2" fill="#777" stroke="#161616" stroke-width="1.55"/>
<text x="639.3" y="715.9" font-size="17.5" fill="#fff" text-anchor="middle">Stop</text>
<path d="M666.4,703.5 L682.5,710.7 L666.4,718.0 Z" fill="#1b96e6"/>
<rect x="687.9" y="698" width="85.0" height="25.2" fill="#bd0000" stroke="#161616" stroke-width="1.55"/>
<text x="730.4" y="715.9" font-size="17.5" fill="#fff" text-anchor="middle">tdT-Gene</text>
<text x="792" y="716.8" font-size="22" fill="#111">or</text>
<path d="M834,703.5 L850.4,710.7 L834,718.0 Z" fill="#1b96e6"/>
<rect x="856.9" y="698" width="45.8" height="25.2" fill="#777" stroke="#161616" stroke-width="1.55"/>
<text x="879.8" y="715.9" font-size="17.5" fill="#fff" text-anchor="middle">Gene</text>
<path d="M908.4,703.5 L924.8,710.7 L908.4,718.0 Z" fill="#1b96e6"/>
<text x="564" y="297.7" font-size="19.5" font-weight="normal" fill="#6b6bb0" text-anchor="start">SnMø</text>
<text x="564" y="366.4" font-size="19.5" font-weight="normal" fill="#e58080" text-anchor="start">SnEC</text>
<text x="848" y="297.7" font-size="19.5" font-weight="normal" fill="#333" text-anchor="start">Death</text>
<text x="848" y="366.4" font-size="19.5" font-weight="normal" fill="#333" text-anchor="start">Survival</text>
<text x="704" y="335.8" font-size="19.8" font-weight="bold" fill="#333" text-anchor="start">Trace</text>
<text x="659.5" y="479.5" font-size="19.5" font-weight="normal" fill="#333" text-anchor="start">Injury</text>
<text x="857.5" y="479.5" font-size="19.5" font-weight="normal" fill="#333" text-anchor="start">Repair</text>
<text x="53" y="810.3" font-size="19.5" font-weight="normal" fill="#6b6bb0" text-anchor="start">SnMø</text>
<text x="57.5" y="917.8" font-size="19.5" font-weight="normal" fill="#e58080" text-anchor="start">SnEC</text>
<text x="167.5" y="861.6" font-size="19.8" font-weight="bold" fill="#333" text-anchor="start">Ablation</text>
<text x="371.5" y="843.5" font-size="19.5" font-weight="normal" fill="#333" text-anchor="start">Fibrosis</text>
<text x="371.5" y="953" font-size="19.5" font-weight="normal" fill="#333" text-anchor="start">Fibrosis</text>
<text x="584" y="784.8" font-size="19.5" font-weight="normal" fill="#e58080" text-anchor="start">SnEC</text>
<text x="696" y="844.4" font-size="19.8" font-weight="bold" fill="#333" text-anchor="start">Reprogram</text>
<text x="659" y="951.6" font-size="19.5" font-weight="normal" fill="#333" text-anchor="start">Injury</text>
<text x="857.3" y="951.6" font-size="19.5" font-weight="normal" fill="#333" text-anchor="start">Fibrosis</text>
<line x1="254.6" y1="234.7" x2="254.6" y2="270.9" stroke="#8c8c8c" stroke-width="1.2"/>
<circle cx="254.6" cy="234.7" r="2.6" fill="#7d7d7d"/>
<line x1="198.2" y1="251.4" x2="219.2" y2="281" stroke="#8c8c8c" stroke-width="1.2"/>
<circle cx="198.2" cy="251.4" r="2.6" fill="#7d7d7d"/>
<line x1="310" y1="250.6" x2="289.7" y2="280.3" stroke="#8c8c8c" stroke-width="1.2"/>
<circle cx="310" cy="250.6" r="2.6" fill="#7d7d7d"/>
<line x1="159.9" y1="292.6" x2="195" y2="307" stroke="#8c8c8c" stroke-width="1.2"/>
<circle cx="159.9" cy="292.6" r="2.6" fill="#7d7d7d"/>
<line x1="348.3" y1="290.8" x2="315" y2="305.6" stroke="#8c8c8c" stroke-width="1.2"/>
<circle cx="348.3" cy="290.8" r="2.6" fill="#7d7d7d"/>
<line x1="152.7" y1="345.7" x2="190.3" y2="340.7" stroke="#8c8c8c" stroke-width="1.2"/>
<circle cx="152.7" cy="345.7" r="2.6" fill="#7d7d7d"/>
<line x1="357.3" y1="345.4" x2="318.9" y2="341.2" stroke="#8c8c8c" stroke-width="1.2"/>
<circle cx="357.3" cy="345.4" r="2.6" fill="#7d7d7d"/>
<line x1="176.5" y1="393" x2="205.8" y2="370.7" stroke="#8c8c8c" stroke-width="1.2"/>
<circle cx="176.5" cy="393" r="2.6" fill="#7d7d7d"/>
<line x1="333" y1="392.4" x2="305.6" y2="370.3" stroke="#8c8c8c" stroke-width="1.2"/>
<circle cx="333" cy="392.4" r="2.6" fill="#7d7d7d"/>
<line x1="226.8" y1="422.4" x2="237.3" y2="389.5" stroke="#8c8c8c" stroke-width="1.2"/>
<circle cx="226.8" cy="422.4" r="2.6" fill="#7d7d7d"/>
<line x1="285" y1="421.3" x2="275.2" y2="389.5" stroke="#8c8c8c" stroke-width="1.2"/>
<circle cx="285" cy="421.3" r="2.6" fill="#7d7d7d"/>
<path d="M245.08,203.63 C242.67,204.57 248.36,206.98 249.1,209.26 C249.83,211.53 249.23,215.48 249.5,217.29 C249.77,219.1 249.43,219.63 250.7,220.1 C251.97,220.57 255.86,220.57 257.13,220.1 C258.4,219.63 258.07,219.1 258.33,217.29 C258.6,215.48 257.86,211.53 258.73,209.26 C259.61,206.98 265.83,204.57 263.55,203.63 C261.28,202.7 247.49,202.7 245.08,203.63Z" fill="#e8b7b5" stroke="#8a6464" stroke-width="0.8" stroke-linejoin="round" />
<path d="M237.85,190.78 C234.57,193.19 235.44,194.53 235.44,196.41 C235.44,198.28 235.84,200.58 237.85,202.03 C239.86,203.47 243.34,204.57 247.49,205.08 C251.64,205.59 258.87,205.72 262.75,205.08 C266.63,204.44 268.98,202.94 270.78,201.22 C272.59,199.51 273.46,196.67 273.59,194.8 C273.73,192.93 274.67,192.12 271.59,189.98 C268.51,187.84 260.74,181.81 255.12,181.95 C249.5,182.08 241.13,188.37 237.85,190.78Z" fill="#e8b7b5" stroke="#8a6464" stroke-width="0.8" stroke-linejoin="round" />
<path d="M246.53,158.25 C245.33,157.52 246.66,155 247.09,153.84 C247.52,152.67 248.29,151.73 249.1,151.27 C249.9,150.8 251.1,150.8 251.91,151.02 C252.71,151.25 253.53,151.43 253.92,152.63 C254.3,153.84 255.47,157.32 254.24,158.25 C253.01,159.19 247.72,158.99 246.53,158.25Z" fill="#e8b7b5" stroke="#8a6464" stroke-width="0.8" stroke-linejoin="round" />
<path d="M254.72,158.25 C253.26,157.32 254.65,153.88 255.12,152.63 C255.59,151.39 256.66,150.98 257.53,150.78 C258.4,150.58 259.47,150.78 260.34,151.43 C261.21,152.07 262.16,153.5 262.75,154.64 C263.34,155.78 265.21,157.65 263.88,158.25 C262.54,158.86 256.18,159.19 254.72,158.25Z" fill="#e8b7b5" stroke="#8a6464" stroke-width="0.8" stroke-linejoin="round" />
<path d="M254.4,157.85 C253.09,155.98 249.31,156.98 246.69,157.85 C244.06,158.72 240.93,160.8 238.65,163.07 C236.38,165.35 234.17,168.49 233.03,171.51 C231.89,174.52 231.43,178.47 231.83,181.14 C232.23,183.82 233.5,185.94 235.44,187.57 C237.38,189.2 240.8,190.74 243.47,190.94 C246.15,191.14 249.61,190.14 251.51,188.78 C253.41,187.41 254.37,186.03 254.88,182.75 C255.39,179.47 254.64,173.25 254.56,169.1 C254.48,164.95 255.71,159.73 254.4,157.85Z" fill="#e8b7b5" stroke="#8a6464" stroke-width="0.8" stroke-linejoin="round" />
<path d="M254.72,157.85 C256.06,155.98 260.07,156.91 262.75,157.85 C265.43,158.79 268.51,161.2 270.78,163.47 C273.06,165.75 275.2,168.56 276.41,171.51 C277.61,174.45 278.28,178.47 278.01,181.14 C277.74,183.82 276.67,185.94 274.8,187.57 C272.93,189.2 269.44,190.88 266.77,190.94 C264.09,191.01 260.69,189.34 258.73,187.97 C256.78,186.61 255.71,185.9 255.04,182.75 C254.37,179.61 254.77,173.25 254.72,169.1 C254.67,164.95 253.38,159.73 254.72,157.85Z" fill="#e8b7b5" stroke="#8a6464" stroke-width="0.8" stroke-linejoin="round" />
<path d="M242.67,196.41 C243.74,196 246.95,194 249.1,194 C251.24,194 253.38,196.41 255.52,196.41 C257.66,196.41 259.81,194 261.95,194 C264.09,194 267.3,196 268.37,196.41" fill="none" stroke="#d9a3a3" stroke-width="0.6" stroke-linejoin="round" />
<path d="M242.67,200.42 C243.74,200.15 246.95,198.82 249.1,198.82 C251.24,198.82 253.38,200.42 255.52,200.42 C257.66,200.42 259.81,198.82 261.95,198.82 C264.09,198.82 267.3,200.15 268.37,200.42" fill="none" stroke="#d9a3a3" stroke-width="0.6" stroke-linejoin="round" />
<rect x="171.62" y="186.87" width="4.34" height="27.11" fill="#6793cb"/>
<line x1="171.62" y1="188.07" x2="175.95" y2="188.07" stroke="#3d6598" stroke-width="0.65"/>
<line x1="171.62" y1="189.72" x2="175.95" y2="189.72" stroke="#3d6598" stroke-width="0.65"/>
<line x1="171.62" y1="191.37" x2="175.95" y2="191.37" stroke="#3d6598" stroke-width="0.65"/>
<line x1="171.62" y1="193.02" x2="175.95" y2="193.02" stroke="#3d6598" stroke-width="0.65"/>
<line x1="171.62" y1="194.67" x2="175.95" y2="194.67" stroke="#3d6598" stroke-width="0.65"/>
<line x1="171.62" y1="196.32" x2="175.95" y2="196.32" stroke="#3d6598" stroke-width="0.65"/>
<line x1="171.62" y1="197.97" x2="175.95" y2="197.97" stroke="#3d6598" stroke-width="0.65"/>
<line x1="171.62" y1="199.62" x2="175.95" y2="199.62" stroke="#3d6598" stroke-width="0.65"/>
<line x1="171.62" y1="201.27" x2="175.95" y2="201.27" stroke="#3d6598" stroke-width="0.65"/>
<line x1="171.62" y1="202.92" x2="175.95" y2="202.92" stroke="#3d6598" stroke-width="0.65"/>
<line x1="171.62" y1="204.57" x2="175.95" y2="204.57" stroke="#3d6598" stroke-width="0.65"/>
<line x1="171.62" y1="206.22" x2="175.95" y2="206.22" stroke="#3d6598" stroke-width="0.65"/>
<line x1="171.62" y1="207.87" x2="175.95" y2="207.87" stroke="#3d6598" stroke-width="0.65"/>
<line x1="171.62" y1="209.52" x2="175.95" y2="209.52" stroke="#3d6598" stroke-width="0.65"/>
<line x1="171.62" y1="211.17" x2="175.95" y2="211.17" stroke="#3d6598" stroke-width="0.65"/>
<line x1="171.62" y1="212.82" x2="175.95" y2="212.82" stroke="#3d6598" stroke-width="0.65"/>
<rect x="171.62" y="186.87" width="4.34" height="1" fill="#2f4f7a"/>
<path d="M171.62,211.09 L175.95,211.09 L181.37,215.28 L181.81,217.95 L178.48,216.51 L173.78,213.98 L169.81,216.51 L166.92,217.74 L166.92,215.06Z" fill="#4f7cb5" stroke="none" stroke-width="0.8" stroke-linejoin="round" />
<path d="M167.28,194.82 C166.37,193.74 164.45,192.77 162.58,193.01 C160.71,193.25 158.24,194.34 156.07,196.27 C153.9,198.19 151.43,201.39 149.57,204.58 C147.7,207.77 145.89,212.05 144.87,215.42 C143.84,218.8 143.36,221.57 143.42,224.82 C143.48,228.07 143.84,231.93 145.23,234.94 C146.61,237.95 149.45,241.15 151.74,242.89 C154.02,244.64 156.98,245.42 158.96,245.42 C160.95,245.42 162.4,244.16 163.66,242.89 C164.93,241.63 165.95,239.88 166.55,237.83 C167.16,235.78 167.12,233.62 167.28,230.6 C167.43,227.59 167.55,223.13 167.49,219.76 C167.43,216.39 166.83,213.74 166.92,210.36 C167,206.99 167.94,202.11 168,199.52 C168.06,196.93 168.18,195.9 167.28,194.82Z" fill="#eca3aa" stroke="#a3626b" stroke-width="0.8" stroke-linejoin="round" />
<path d="M167.64,220.12 C168.7,219.16 172.4,222.11 174.15,223.37 C175.89,224.64 177.22,225.78 178.12,227.71 C179.03,229.64 179.57,232.89 179.57,234.94 C179.57,236.99 178.96,239.34 178.12,240 C177.28,240.66 175.83,239.94 174.51,238.92 C173.18,237.89 171.29,235.48 170.17,233.86 C169.05,232.23 168.21,231.45 167.78,229.16 C167.36,226.87 166.58,221.09 167.64,220.12Z" fill="#eca3aa" stroke="#a3626b" stroke-width="0.8" stroke-linejoin="round" />
<path d="M181.37,210.36 C181.74,206.99 182.22,202.95 183.18,200.24 C184.15,197.53 185.53,195 187.16,194.1 C188.78,193.19 190.89,193.43 192.94,194.82 C194.99,196.21 197.7,199.34 199.45,202.41 C201.19,205.48 202.58,209.28 203.42,213.25 C204.27,217.23 204.81,222.53 204.51,226.27 C204.21,230 203.18,233.37 201.62,235.66 C200.05,237.95 197.4,238.98 195.11,240 C192.82,241.03 189.99,241.69 187.88,241.81 C185.77,241.93 183.54,242.59 182.46,240.72 C181.37,238.86 181.62,233.98 181.37,230.6 C181.13,227.23 181.01,223.86 181.01,220.48 C181.01,217.11 181.01,213.74 181.37,210.36Z" fill="#eca3aa" stroke="#a3626b" stroke-width="0.8" stroke-linejoin="round" />
<path d="M148.12,207.11 C149.69,207.41 154.45,207.89 157.52,208.92 C160.59,209.94 165.05,212.53 166.55,213.25" fill="none" stroke="#a3626b" stroke-width="0.7" stroke-linejoin="round" />
<path d="M145.23,217.95 C147.04,217.83 152.4,217.23 156.07,217.23 C159.75,217.23 165.41,217.83 167.28,217.95" fill="none" stroke="#a3626b" stroke-width="0.7" stroke-linejoin="round" />
<rect x="105.95" y="250.85" width="5.12" height="54.28" fill="#4d6cc2" stroke="#3a55a0" stroke-width="0.4"/>
<path d="M110.39,252.22 L114.48,254.27 L119.26,253.24 L119.81,248.46 L122.33,248.46 L123.02,253.92 L124.59,249.83 L127.45,249.83 L127.11,255.29 L130.87,260.07 L126.09,263.48 L118.58,272.36 L114.48,272.36 L111.41,269.63 L111.61,260.07Z" fill="#df0d0d" stroke="#a00000" stroke-width="0.5" stroke-linejoin="round" />
<path d="M118.24,261.09 C120.46,258.7 128.25,260.01 130.87,260.07 C133.48,260.13 133.37,259.04 133.94,261.43 C134.51,263.82 133.43,271.45 134.28,274.41 C135.13,277.36 137.69,277.14 139.06,279.18 C140.43,281.23 141.68,284.08 142.47,286.69 C143.27,289.31 143.95,292.16 143.84,294.89 C143.73,297.62 143.04,301.26 141.79,303.08 C140.54,304.9 139.52,305.58 136.33,305.81 C133.14,306.04 126.77,305.36 122.67,304.45 C118.58,303.54 114.37,301.83 111.75,300.35 C109.13,298.87 107.54,297.28 106.97,295.57 C106.4,293.86 107.09,292.04 108.34,290.11 C109.59,288.17 112.95,286.58 114.48,283.96 C116.02,281.35 116.93,278.22 117.55,274.41 C118.18,270.59 116.02,263.48 118.24,261.09Z" fill="#cd4f52" stroke="#8a2a30" stroke-width="0.7" stroke-linejoin="round" />
<path d="M99.8,281.23 C100.37,278.73 101.23,273.84 102.88,271.67 C104.53,269.51 107.54,268.37 109.7,268.26 C111.86,268.15 114.6,269.29 115.85,270.99 C117.1,272.7 117.44,275.89 117.21,278.5 C116.99,281.12 116.08,284.19 114.48,286.69 C112.89,289.2 109.7,292.61 107.65,293.52 C105.61,294.43 103.56,293.29 102.19,292.16 C100.83,291.02 99.86,288.52 99.46,286.69 C99.06,284.87 99.23,283.74 99.8,281.23Z" fill="#8e3c55" stroke="#5a2030" stroke-width="0.7" stroke-linejoin="round" />
<path d="M126.09,266.55 C127.34,265.64 132.18,264.79 133.6,266.21 C135.02,267.64 135.31,273.61 134.62,275.09 C133.94,276.57 130.92,275.66 129.5,275.09 C128.08,274.52 126.66,273.1 126.09,271.67 C125.52,270.25 124.84,267.46 126.09,266.55Z" fill="#8e3c55" stroke="none" stroke-width="0.8" stroke-linejoin="round" />
<path d="M129.5,275.77 C129.27,276.34 128.48,278.1 128.14,279.18 C127.8,280.27 127.57,281.75 127.45,282.26" fill="none" stroke="#e01818" stroke-width="1.15" stroke-linejoin="round" />
<path d="M133.94,278.5 C134.4,279.53 135.82,282.37 136.67,284.65 C137.52,286.92 138.26,289.88 139.06,292.16 C139.86,294.43 141.05,297.28 141.45,298.3" fill="none" stroke="#e01818" stroke-width="1.15" stroke-linejoin="round" />
<path d="M137.01,286.01 C136.67,286.69 135.59,288.86 134.96,290.11 C134.34,291.36 133.54,292.95 133.26,293.52" fill="none" stroke="#e01818" stroke-width="1.15" stroke-linejoin="round" />
<path d="M139.06,292.16 C139.52,291.82 141.34,290.45 141.79,290.11" fill="none" stroke="#e01818" stroke-width="1.15" stroke-linejoin="round" />
<path d="M110.39,290.79 C111.41,290.93 114.6,291.33 116.53,291.61 C118.46,291.9 120.34,291.9 121.99,292.5 C123.64,293.1 125.69,294.77 126.43,295.23" fill="none" stroke="#e01818" stroke-width="1.15" stroke-linejoin="round" />
<path d="M111.07,296.94 C112.09,297.11 115.16,297.48 117.21,297.96 C119.26,298.44 121.48,299.06 123.36,299.8 C125.24,300.54 127.62,301.97 128.48,302.4" fill="none" stroke="#e01818" stroke-width="1.15" stroke-linejoin="round" />
<path d="M116.53,291.61 C116.36,292.33 115.68,295.19 115.51,295.91" fill="none" stroke="#e01818" stroke-width="1.15" stroke-linejoin="round" />
<path d="M121.99,292.5 C122.11,291.99 122.56,289.94 122.67,289.43" fill="none" stroke="#e01818" stroke-width="1.15" stroke-linejoin="round" />
<path d="M123.36,299.8 C123.7,299.44 125.06,297.98 125.41,297.62" fill="none" stroke="#e01818" stroke-width="1.15" stroke-linejoin="round" />
<path d="M128.14,279.18 C128.48,279.53 129.84,280.89 130.18,281.23" fill="none" stroke="#e01818" stroke-width="1.15" stroke-linejoin="round" />
<path d="M330.88,204.47 L330.97,204.57 L331.07,204.68 L331.19,204.81 L331.34,204.96 L331.52,205.12 L331.74,205.29 L331.99,205.46 L332.28,205.64 L332.58,205.82 L332.89,206.02 L333.19,206.23 L333.45,206.45 L333.68,206.69 L333.86,206.94 L334,207.21 L334.11,207.48 L334.19,207.76 L334.25,208.07 L334.29,208.4 L334.32,208.72 L334.35,209.05 L334.39,209.37 L334.46,209.67 L334.55,209.96 L334.67,210.22 L334.82,210.46 L335,210.68 L335.2,210.88 L335.41,211.07 L335.62,211.23 L335.84,211.39 L336.04,211.53 L336.22,211.66 L336.38,211.75 L336.53,211.83 L336.65,211.91 L336.77,211.97 L336.89,212.05 L337,212.13 L337.11,212.23 L337.21,212.36 L337.3,212.5 L337.38,212.67 L337.43,212.86 L337.46,213.06 L337.45,213.28 L337.4,213.52 L337.32,213.79 L337.18,214.07 L337.01,214.36 L336.81,214.67 L336.61,214.99 L336.43,215.33 L336.3,215.7 L336.23,216.1 L336.23,216.53 L336.29,216.98 L336.4,217.45 L336.5,217.91 L336.58,218.36 L336.61,218.79 L336.57,219.19 L336.47,219.56 L336.33,219.91 L336.15,220.25 L335.95,220.58 L335.75,220.92 L335.56,221.26 L335.41,221.6 L335.31,221.95 L335.26,222.29 L335.27,222.64 L335.33,222.98 L335.44,223.33 L335.58,223.68 L335.74,224.02 L335.89,224.36 L336.03,224.7 L336.13,225.04 L336.18,225.38 L336.19,225.72 L336.15,226.06 L336.06,226.4 L335.95,226.74 L335.81,227.09 L335.68,227.44 L335.55,227.8 L335.46,228.15 L335.4,228.49 L335.4,228.84 L335.45,229.17 L335.55,229.51 L335.69,229.85 L335.85,230.2 L336.03,230.55 L336.19,230.92 L336.32,231.29 L336.41,231.68 L336.43,232.07 L336.38,232.47 L336.26,232.86 L336.07,233.26 L335.86,233.65 L335.64,234.04 L335.44,234.42 L335.29,234.8 L335.2,235.18 L335.18,235.55 L335.21,235.92 L335.28,236.29 L335.37,236.65 L335.45,237 L335.53,237.33 L335.59,237.65 L335.62,237.95 L335.63,238.24 L335.59,238.52 L335.52,238.78 L335.41,239.03 L335.27,239.26 L335.1,239.48 L334.91,239.68 L334.69,239.86 L334.46,240.01 L334.21,240.15 L333.96,240.28 L333.71,240.4 L333.46,240.53 L333.2,240.69 L332.95,240.88 L332.7,241.13 L332.46,241.44 L332.22,241.78 L331.97,242.16 L331.69,242.53 L331.38,242.87 L331.02,243.14 L330.63,243.33 L330.21,243.43 L329.77,243.46 L329.33,243.43 L328.9,243.37 L328.51,243.31 L328.16,243.26 L327.83,243.23 L327.52,243.23 L327.2,243.27 L326.89,243.34 L326.57,243.45 L326.24,243.57 L325.9,243.7 L325.56,243.82 L325.21,243.91 L324.86,243.96 L324.52,243.97 L324.2,243.92 L323.9,243.82 L323.63,243.68 L323.38,243.5 L323.16,243.31 L322.96,243.09 L322.78,242.88 L322.62,242.66 L322.47,242.45 L322.33,242.25 L322.2,242.05 L322.08,241.88 L321.95,241.71 L321.82,241.56 L321.67,241.41 L321.51,241.26 L321.32,241.11 L321.12,240.95 L320.89,240.77 L320.65,240.57 L320.4,240.34 L320.15,240.08 L319.92,239.77 L319.74,239.43 L319.61,239.05 L319.57,238.64 L319.6,238.21 L319.71,237.76 L319.85,237.3 L320.01,236.84 L320.13,236.38 L320.19,235.93 L320.16,235.48 L320.05,235.03 L319.87,234.58 L319.66,234.13 L319.46,233.67 L319.31,233.2 L319.25,232.72 L319.29,232.24 L319.45,231.76 L319.7,231.31 L320,230.86 L320.32,230.41 L320.58,229.96 L320.76,229.48 L320.82,228.99 L320.79,228.46 L320.69,227.92 L320.57,227.37 L320.48,226.83 L320.47,226.32 L320.57,225.83 L320.78,225.36 L321.09,224.91 L321.45,224.48 L321.8,224.05 L322.1,223.6 L322.3,223.13 L322.39,222.62 L322.37,222.08 L322.3,221.53 L322.21,220.97 L322.17,220.43 L322.22,219.92 L322.37,219.44 L322.63,219.01 L322.95,218.61 L323.31,218.22 L323.65,217.83 L323.94,217.44 L324.14,217.02 L324.25,216.58 L324.28,216.12 L324.25,215.65 L324.18,215.16 L324.12,214.68 L324.1,214.22 L324.15,213.78 L324.27,213.37 L324.47,212.98 L324.75,212.63 L325.06,212.3 L325.4,211.99 L325.72,211.68 L326.01,211.35 L326.24,211 L326.4,210.61 L326.49,210.19 L326.53,209.75 L326.52,209.29 L326.52,208.83 L326.54,208.38 L326.61,207.96 L326.73,207.58 L326.92,207.24 L327.17,206.95 L327.45,206.69 L327.75,206.48 L328.05,206.29 L328.34,206.13 L328.61,205.98 L328.87,205.83 L329.09,205.67 L329.29,205.51 L329.46,205.34 L329.61,205.16 L329.73,204.99 L329.85,204.81 L329.96,204.64 L330.07,204.47 L330.18,204.31 L330.32,204.17 L330.47,204.05 L330.65,203.95 L330.85,203.88Z" fill="#f5b07b" stroke="#a07858" stroke-width="0.8" stroke-linejoin="round" />
<path d="M342.6,206.74 L342.78,206.84 L342.94,206.97 L343.07,207.13 L343.2,207.31 L343.31,207.49 L343.43,207.69 L343.56,207.88 L343.7,208.07 L343.86,208.25 L344.05,208.42 L344.25,208.58 L344.48,208.73 L344.73,208.88 L344.98,209.02 L345.23,209.15 L345.47,209.29 L345.7,209.43 L345.91,209.6 L346.1,209.78 L346.27,209.98 L346.41,210.2 L346.52,210.44 L346.59,210.69 L346.64,210.96 L346.66,211.23 L346.65,211.52 L346.63,211.82 L346.6,212.13 L346.56,212.44 L346.54,212.76 L346.54,213.07 L346.57,213.39 L346.65,213.7 L346.77,214 L346.95,214.3 L347.17,214.6 L347.43,214.9 L347.71,215.19 L347.99,215.5 L348.24,215.82 L348.45,216.16 L348.59,216.51 L348.67,216.89 L348.69,217.27 L348.65,217.67 L348.59,218.06 L348.51,218.44 L348.44,218.81 L348.39,219.16 L348.38,219.5 L348.4,219.82 L348.47,220.12 L348.58,220.42 L348.72,220.7 L348.9,220.98 L349.08,221.26 L349.28,221.54 L349.47,221.82 L349.63,222.11 L349.77,222.41 L349.87,222.71 L349.93,223.03 L349.93,223.35 L349.89,223.69 L349.81,224.03 L349.7,224.38 L349.57,224.73 L349.44,225.07 L349.33,225.42 L349.25,225.77 L349.22,226.11 L349.23,226.45 L349.3,226.79 L349.42,227.13 L349.57,227.47 L349.74,227.82 L349.92,228.17 L350.08,228.53 L350.2,228.9 L350.26,229.26 L350.27,229.64 L350.21,230.01 L350.08,230.39 L349.91,230.77 L349.7,231.15 L349.5,231.53 L349.31,231.91 L349.17,232.29 L349.09,232.67 L349.08,233.06 L349.13,233.45 L349.23,233.85 L349.35,234.24 L349.47,234.64 L349.57,235.03 L349.62,235.41 L349.63,235.77 L349.58,236.12 L349.48,236.47 L349.32,236.8 L349.11,237.13 L348.88,237.44 L348.64,237.74 L348.4,238.03 L348.19,238.31 L348.01,238.58 L347.87,238.85 L347.76,239.11 L347.68,239.38 L347.62,239.66 L347.56,239.94 L347.49,240.23 L347.38,240.52 L347.25,240.81 L347.07,241.09 L346.85,241.34 L346.59,241.56 L346.31,241.72 L345.99,241.84 L345.67,241.9 L345.33,241.9 L344.98,241.86 L344.64,241.8 L344.31,241.71 L343.98,241.63 L343.67,241.55 L343.37,241.51 L343.09,241.49 L342.83,241.49 L342.56,241.53 L342.29,241.59 L342.01,241.68 L341.72,241.78 L341.43,241.9 L341.12,242.01 L340.81,242.11 L340.5,242.19 L340.19,242.23 L339.89,242.24 L339.6,242.2 L339.32,242.12 L339.07,242.01 L338.83,241.86 L338.62,241.69 L338.43,241.51 L338.25,241.33 L338.08,241.13 L337.92,240.94 L337.77,240.75 L337.63,240.58 L337.49,240.41 L337.36,240.25 L337.24,240.11 L337.1,239.97 L336.97,239.85 L336.82,239.73 L336.66,239.6 L336.49,239.47 L336.29,239.32 L336.09,239.15 L335.87,238.95 L335.66,238.72 L335.46,238.46 L335.28,238.17 L335.14,237.86 L335.06,237.53 L335.03,237.18 L335.06,236.81 L335.15,236.44 L335.29,236.06 L335.46,235.67 L335.63,235.28 L335.78,234.89 L335.88,234.49 L335.91,234.09 L335.87,233.68 L335.76,233.26 L335.59,232.81 L335.39,232.35 L335.2,231.87 L335.07,231.37 L335.04,230.87 L335.13,230.38 L335.32,229.88 L335.59,229.4 L335.88,228.91 L336.12,228.42 L336.28,227.93 L336.33,227.43 L336.27,226.93 L336.12,226.43 L335.93,225.94 L335.75,225.45 L335.62,224.98 L335.57,224.5 L335.62,224.04 L335.76,223.58 L335.97,223.12 L336.22,222.67 L336.46,222.23 L336.65,221.78 L336.76,221.34 L336.79,220.9 L336.72,220.46 L336.6,220.01 L336.45,219.57 L336.3,219.14 L336.18,218.71 L336.12,218.3 L336.13,217.91 L336.2,217.53 L336.34,217.16 L336.53,216.81 L336.75,216.48 L336.99,216.15 L337.21,215.83 L337.4,215.52 L337.56,215.21 L337.66,214.89 L337.73,214.58 L337.75,214.25 L337.74,213.92 L337.7,213.59 L337.66,213.25 L337.63,212.9 L337.62,212.57 L337.63,212.24 L337.69,211.93 L337.78,211.63 L337.91,211.36 L338.08,211.12 L338.28,210.9 L338.5,210.71 L338.75,210.53 L339,210.37 L339.26,210.22 L339.51,210.08 L339.75,209.94 L339.98,209.79 L340.19,209.64 L340.38,209.46 L340.55,209.26 L340.69,209.04 L340.82,208.79 L340.92,208.54 L341.01,208.27 L341.09,207.99 L341.18,207.72 L341.27,207.46 L341.38,207.21 L341.52,206.98 L341.68,206.78 L341.87,206.61 L342.09,206.49 L342.33,206.4Z" fill="#f5b07b" stroke="#a07858" stroke-width="0.8" stroke-linejoin="round" />
<path d="M362.42,285.52 C362.79,283.89 364.22,281.1 365.23,279.1 C366.23,277.09 366.97,275.35 368.44,273.47 C369.91,271.6 371.79,269.59 374.06,267.85 C376.34,266.11 379.02,264.1 382.1,263.03 C385.18,261.96 389.06,261.56 392.54,261.43 C396.02,261.29 399.37,261.96 402.98,262.23 C406.59,262.5 411.01,262.63 414.22,263.03 C417.44,263.43 419.98,263.57 422.26,264.64 C424.53,265.71 426.27,267.45 427.88,269.46 C429.49,271.47 430.96,274.28 431.9,276.69 C432.83,279.1 433.37,281.51 433.5,283.92 C433.64,286.33 433.37,289 432.7,291.14 C432.03,293.29 430.96,295.16 429.49,296.77 C428.01,298.37 426.14,299.71 423.86,300.78 C421.59,301.85 418.78,302.76 415.83,303.19 C412.89,303.62 409.14,303.73 406.19,303.35 C403.25,302.98 400.3,302.01 398.16,300.94 C396.02,299.87 394.48,298.29 393.34,296.93 C392.2,295.56 392.14,293.05 391.33,292.75 C390.53,292.46 390.06,294.22 388.52,295.16 C386.98,296.1 383.97,298.08 382.1,298.37 C380.22,298.67 378.62,297.97 377.28,296.93 C375.94,295.88 375.67,293.18 374.06,292.11 C372.46,291.04 369.49,291.04 367.64,290.5 C365.79,289.97 363.85,289.73 362.98,288.9 C362.11,288.07 362.04,287.16 362.42,285.52Z" fill="#b06a62" stroke="#6a3434" stroke-width="0.9" stroke-linejoin="round" />
<path d="M414.22,263.03 C414.63,263.84 416.26,265.84 416.63,267.85 C417.01,269.86 416.88,272.8 416.47,275.08 C416.07,277.36 415.67,279.74 414.22,281.51 C412.78,283.27 410.48,284.59 407.8,285.68 C405.12,286.78 400.84,287.42 398.16,288.09 C395.48,288.76 393.18,289.86 391.73,289.7 C390.29,289.54 389.82,288.49 389.49,287.13 C389.15,285.76 389.49,283.11 389.73,281.51 C389.97,279.9 390.73,278.16 390.93,277.49" fill="none" stroke="#6a3434" stroke-width="0.9" stroke-linejoin="round" />
<path d="M364.43,290.34 C366.03,290.5 371.12,291.28 374.06,291.31 C377.01,291.33 379.53,291.04 382.1,290.5 C384.67,289.97 388.25,288.49 389.49,288.09" fill="none" stroke="#6a3434" stroke-width="0.8" stroke-linejoin="round" />
<path d="M400.89,329.82 C403.6,329.42 407.02,329.72 409.33,330.42 C411.63,331.12 413.39,332.53 414.75,334.04 C416.1,335.54 417.06,337.75 417.46,339.46 C417.86,341.16 417.61,342.97 417.16,344.28 C416.7,345.58 415.65,346.49 414.75,347.29 C413.84,348.09 412.39,348.09 411.73,349.1 C411.08,350.1 410.83,351.71 410.83,353.31 C410.83,354.92 411.18,357.03 411.73,358.73 C412.29,360.44 413.64,361.95 414.14,363.55 C414.65,365.16 414.85,366.77 414.75,368.37 C414.65,369.98 414.45,371.59 413.54,373.19 C412.64,374.8 411.23,376.96 409.33,378.01 C407.42,379.07 404.51,379.52 402.1,379.52 C399.69,379.52 397.18,379.07 394.87,378.01 C392.56,376.96 389.95,375.2 388.24,373.19 C386.53,371.18 385.38,368.57 384.63,365.96 C383.87,363.35 383.72,360.54 383.72,357.53 C383.72,354.52 383.97,350.9 384.63,347.89 C385.28,344.88 386.23,341.97 387.64,339.46 C389.04,336.95 390.85,334.44 393.06,332.83 C395.27,331.22 398.18,330.22 400.89,329.82Z" fill="#b8766f" stroke="#7a4a48" stroke-width="0.8" stroke-linejoin="round" />
<path d="M395.47,345.48 C396.78,345.28 400.99,344.08 403.3,344.28 C405.61,344.48 407.92,345.78 409.33,346.69 C410.73,347.59 411.33,349.2 411.73,349.7" fill="none" stroke="#cc8c86" stroke-width="0.8" stroke-linejoin="round" />
<path d="M395.47,359.34 C396.37,358.94 398.98,357.43 400.89,356.93 C402.8,356.43 405.31,356.22 406.92,356.33 C408.52,356.43 409.93,357.33 410.53,357.53" fill="none" stroke="#cc8c86" stroke-width="0.8" stroke-linejoin="round" />
<path d="M410.53,349.7 L421.37,349.7 L422.46,351.2 L421.37,352.71 L410.53,352.71Z" fill="#d2283e" stroke="none" stroke-width="0.8" stroke-linejoin="round" />
<path d="M410.83,353.31 L420.17,353.31 L420.89,355 L420.17,356.63 L410.83,356.63Z" fill="#7a6ab2" stroke="none" stroke-width="0.8" stroke-linejoin="round" />
<path d="M411.43,357.83 L417.76,357.83 L417.88,367.17 L418.06,379.52 L413.54,379.52 L413.42,367.17 L412.94,361.75Z" fill="#cfae62" stroke="#a88648" stroke-width="0.5" stroke-linejoin="round" />
<path d="M330.18,414.42 L330.43,414.12 L330.66,413.77 L330.9,413.37 L331.18,412.97 L331.51,412.61 L331.93,412.34 L332.42,412.17 L332.96,412.09 L333.52,412.04 L334.06,411.95 L334.57,411.75 L335.05,411.43 L335.53,411.05 L336.03,410.69 L336.58,410.46 L337.19,410.38 L337.84,410.43 L338.51,410.5 L339.17,410.44 L339.82,410.19 L340.48,409.83 L341.17,409.54 L341.9,409.48 L342.67,409.62 L343.44,409.79 L344.19,409.76 L344.92,409.5 L345.63,409.15 L346.34,408.92 L347.08,408.93 L347.82,409.07 L348.55,409.17 L349.24,409.08 L349.89,408.79 L350.53,408.43 L351.19,408.17 L351.87,408.11 L352.59,408.21 L353.3,408.32 L353.99,408.28 L354.63,408.03 L355.25,407.67 L355.87,407.35 L356.51,407.2 L357.19,407.23 L357.88,407.33 L358.55,407.35 L359.17,407.19 L359.75,406.87 L360.32,406.49 L360.9,406.19 L361.52,406.05 L362.18,406.07 L362.85,406.12 L363.48,406.08 L364.07,405.87 L364.61,405.53 L365.12,405.14 L365.65,404.83 L366.2,404.67 L366.79,404.64 L367.39,404.67 L367.96,404.67 L368.48,404.56 L368.95,404.34 L369.38,404.04 L369.78,403.7 L370.18,403.41 L370.59,403.19 L371.03,403.07 L371.49,403.02 L371.96,403.01 L372.41,403 L372.84,402.95 L373.23,402.83 L373.6,402.65 L373.93,402.42 L374.27,402.16 L374.6,401.91 L374.95,401.71 L375.32,401.57 L375.72,401.5 L376.14,401.5 L376.57,401.55 L376.99,401.62 L377.41,401.66 L377.8,401.65 L378.17,401.58 L378.51,401.46 L378.84,401.32 L379.14,401.18 L379.44,401.06 L379.72,400.97 L379.98,400.94 L380.23,400.96 L380.45,401.03 L380.64,401.16 L380.78,401.33 L380.85,401.53 L380.87,401.73 L380.83,401.93 L380.76,402.12 L380.65,402.31 L380.51,402.49 L380.36,402.67 L380.2,402.86 L380.04,403.05 L379.89,403.25 L379.76,403.46 L379.65,403.7 L379.57,403.94 L379.5,404.19 L379.45,404.45 L379.4,404.72 L379.33,404.99 L379.25,405.27 L379.13,405.54 L378.98,405.79 L378.79,406.03 L378.56,406.24 L378.28,406.43 L377.98,406.6 L377.65,406.77 L377.32,406.96 L377,407.18 L376.72,407.45 L376.47,407.78 L376.26,408.18 L376.06,408.62 L375.82,409.06 L375.51,409.47 L375.09,409.81 L374.58,410.07 L374.03,410.3 L373.49,410.56 L373.04,410.94 L372.68,411.43 L372.38,411.98 L372.05,412.52 L371.64,412.95 L371.13,413.26 L370.56,413.49 L370.01,413.71 L369.52,413.99 L369.13,414.38 L368.81,414.86 L368.52,415.38 L368.2,415.87 L367.79,416.26 L367.29,416.54 L366.74,416.75 L366.19,416.96 L365.71,417.23 L365.31,417.6 L364.99,418.04 L364.7,418.51 L364.39,418.93 L364.02,419.27 L363.61,419.5 L363.16,419.64 L362.72,419.72 L362.3,419.79 L361.93,419.88 L361.6,420 L361.31,420.15 L361.03,420.33 L360.77,420.54 L360.52,420.75 L360.25,420.96 L359.97,421.16 L359.67,421.31 L359.34,421.42 L358.99,421.48 L358.61,421.48 L358.2,421.45 L357.76,421.4 L357.3,421.37 L356.82,421.41 L356.33,421.55 L355.83,421.79 L355.31,422.07 L354.77,422.29 L354.21,422.38 L353.62,422.33 L353.04,422.2 L352.46,422.1 L351.92,422.1 L351.42,422.22 L350.97,422.44 L350.57,422.69 L350.22,422.91 L349.91,423.09 L349.64,423.22 L349.39,423.3 L349.16,423.36 L348.94,423.4 L348.75,423.43 L348.58,423.47 L348.42,423.52 L348.27,423.59 L348.13,423.68 L348.01,423.78 L347.9,423.91 L347.8,424.05 L347.71,424.2 L347.65,424.37 L347.59,424.56 L347.56,424.77 L347.55,425.02 L347.6,425.28 L347.7,425.54 L347.83,425.8 L347.99,426.06 L348.15,426.33 L348.3,426.61 L348.42,426.9 L348.5,427.22 L348.52,427.55 L348.51,427.89 L348.46,428.23 L348.39,428.56 L348.32,428.88 L348.26,429.17 L348.21,429.44 L348.19,429.73 L348.21,430.03 L348.25,430.34 L348.32,430.66 L348.39,430.99 L348.44,431.32 L348.45,431.65 L348.42,431.98 L348.33,432.29 L348.2,432.58 L348.01,432.85 L347.8,433.1 L347.58,433.33 L347.35,433.54 L347.14,433.74 L346.95,433.93 L346.78,434.14 L346.62,434.36 L346.48,434.6 L346.35,434.85 L346.21,435.12 L346.05,435.39 L345.87,435.65 L345.67,435.88 L345.43,436.09 L345.15,436.24 L344.85,436.36 L344.52,436.42 L344.17,436.45 L343.82,436.46 L343.47,436.47 L343.13,436.49 L342.78,436.56 L342.43,436.69 L342.07,436.88 L341.7,437.1 L341.31,437.34 L340.9,437.54 L340.46,437.65 L340.01,437.67 L339.54,437.59 L339.08,437.47 L338.63,437.34 L338.2,437.25 L337.79,437.23 L337.38,437.27 L336.97,437.35 L336.57,437.44 L336.17,437.5 L335.77,437.5 L335.37,437.42 L335.01,437.27 L334.67,437.03 L334.36,436.75 L334.07,436.46 L333.79,436.18 L333.49,435.94 L333.16,435.75 L332.82,435.61 L332.45,435.5 L332.08,435.4 L331.72,435.29 L331.38,435.16 L331.09,434.99 L330.84,434.77 L330.63,434.51 L330.46,434.22 L330.33,433.92 L330.23,433.61 L330.13,433.3 L330.03,433.01 L329.91,432.74 L329.76,432.49 L329.59,432.26 L329.39,432.03 L329.17,431.82 L328.95,431.6 L328.74,431.37 L328.54,431.13 L328.37,430.88 L328.25,430.61 L328.16,430.33 L328.13,430.04 L328.13,429.74 L328.16,429.44 L328.21,429.15 L328.27,428.85 L328.31,428.56 L328.33,428.27 L328.33,427.99 L328.29,427.7 L328.21,427.4 L328.1,427.1 L327.98,426.79 L327.86,426.47 L327.75,426.15 L327.69,425.8 L327.68,425.45 L327.74,425.09 L327.85,424.74 L328.01,424.38 L328.18,424.02 L328.34,423.65 L328.46,423.28 L328.51,422.9 L328.5,422.51 L328.44,422.11 L328.35,421.7 L328.28,421.29 L328.24,420.89 L328.27,420.51 L328.36,420.14 L328.51,419.78 L328.68,419.42 L328.85,419.04 L329,418.65 L329.08,418.26 L329.1,417.86 L329.05,417.46 L328.96,417.06 L328.87,416.66 L328.8,416.25 L328.81,415.84 L328.9,415.45 L329.09,415.09 L329.36,414.78 L329.69,414.52Z" fill="#f5b47e" stroke="#8a5a3a" stroke-width="0.8" stroke-linejoin="round" />
<path d="M329.29,429.46 C330.28,428.36 333.16,424.38 335.25,422.83 C337.35,421.29 339.12,421.18 341.88,420.18 C344.64,419.19 348.51,417.86 351.82,416.87 C355.13,415.87 359,415.1 361.76,414.22 C364.52,413.33 365.96,413 368.39,411.57 C370.82,410.13 374.52,407.04 376.34,405.6 C378.16,404.17 378.83,403.39 379.32,402.95" fill="none" stroke="#6a3a22" stroke-width="1.1" stroke-linejoin="round" />
<path d="M338.57,421.18 L338.90,415.52 M337.24,414.88 L338.90,415.52 L340.56,414.55" fill="none" stroke="#6a3a22" stroke-width="0.8"/>
<path d="M346.52,418.86 L346.52,414.69 M345.19,414.22 L346.52,414.69 L347.84,413.56" fill="none" stroke="#6a3a22" stroke-width="0.8"/>
<path d="M353.81,416.21 L354.47,412.20 M353.15,411.57 L354.47,412.20 L355.80,411.24" fill="none" stroke="#6a3a22" stroke-width="0.8"/>
<path d="M361.76,414.22 L362.42,410.54 M361.10,409.91 L362.42,410.54 L363.75,409.58" fill="none" stroke="#6a3a22" stroke-width="0.8"/>
<path d="M368.39,411.57 L369.05,409.22 M367.73,408.59 L369.05,409.22 L370.38,408.25" fill="none" stroke="#6a3a22" stroke-width="0.8"/>
<path d="M375.02,406.60 L375.68,404.58 M374.35,403.95 L375.68,404.58 L377.00,403.61" fill="none" stroke="#6a3a22" stroke-width="0.8"/>
<ellipse cx="353.15" cy="418.86" rx="1.3" ry="0.8" fill="#5a2a15" transform="rotate(30 353.15 418.86)"/>
<ellipse cx="342.54" cy="422.50" rx="1.3" ry="0.8" fill="#5a2a15" transform="rotate(30 342.54 422.50)"/>
<ellipse cx="337.24" cy="426.81" rx="1.3" ry="0.8" fill="#5a2a15" transform="rotate(30 337.24 426.81)"/>
<path d="M329.95,429.46 C330.5,428.69 332.16,426.15 333.27,424.82 C334.37,423.5 336.03,422.06 336.58,421.51" fill="none" stroke="#6a3a22" stroke-width="0.6" stroke-linejoin="round" />
<path d="M108.72,338.81 C109.04,337.83 110.56,335.98 111.98,336.53 C113.39,337.07 114.91,341.31 117.2,342.07 C119.48,342.83 122.96,340.82 125.68,341.09 C128.4,341.37 131.56,342.07 133.51,343.7 C135.47,345.34 136.76,347.95 137.43,350.88 C138.1,353.82 138.1,358.17 137.56,361.33 C137.02,364.48 135.93,367.42 134.17,369.81 C132.4,372.2 129.71,374.14 126.99,375.68 C124.27,377.23 121.01,378.62 117.85,379.08 C114.7,379.53 111,379.1 108.06,378.42 C105.13,377.75 102.41,376.36 100.23,375.03 C98.06,373.7 96.32,371.44 95.01,370.46 C93.7,369.48 93.05,368.94 92.4,369.16 C91.75,369.37 91.4,370.44 91.09,371.77 C90.79,373.09 91.57,376.23 90.57,377.12 C89.57,378.01 86.04,378.45 85.09,377.12 C84.14,375.79 84.55,371.35 84.89,369.16 C85.24,366.96 85.82,365.13 87.18,363.94 C88.54,362.74 90.99,362.09 93.05,361.98 C95.12,361.87 97.19,362.96 99.58,363.28 C101.97,363.61 105.13,364.37 107.41,363.94 C109.69,363.5 111.98,362.2 113.28,360.67 C114.59,359.15 114.91,356.87 115.24,354.8 C115.57,352.73 115.57,349.8 115.24,348.27 C114.91,346.75 114.15,346.64 113.28,345.66 C112.41,344.68 110.78,343.54 110.02,342.4 C109.26,341.26 108.39,339.79 108.72,338.81Z" fill="#f7aca8" stroke="#a06a6a" stroke-width="0.8" stroke-linejoin="round" />
<path d="M148.61,443.99 C147.61,443.87 144.35,442.99 142.59,443.24 C140.83,443.49 138.95,444.37 138.07,445.5 C137.19,446.63 136.69,448.86 137.32,450.02 C137.95,451.17 140.33,452.24 141.84,452.43 C143.34,452.62 145.45,451.9 146.36,451.15 C147.26,450.39 147.11,448.45 147.26,447.91" fill="none" stroke="#a87272" stroke-width="5.6" stroke-linecap="round" stroke-linejoin="round"/>
<path d="M148.61,443.99 C147.61,443.87 144.35,442.99 142.59,443.24 C140.83,443.49 138.95,444.37 138.07,445.5 C137.19,446.63 136.69,448.86 137.32,450.02 C137.95,451.17 140.33,452.24 141.84,452.43 C143.34,452.62 145.45,451.9 146.36,451.15 C147.26,450.39 147.11,448.45 147.26,447.91" fill="none" stroke="#f4aea8" stroke-width="4.1" stroke-linecap="round" stroke-linejoin="round"/>
<path d="M132.05,428.18 C132.05,429.18 131.3,432.57 132.05,434.2 C132.8,435.84 134.56,437.12 136.57,437.97 C138.57,438.82 141.21,439.35 144.1,439.33 C146.98,439.3 150.62,438.52 153.89,437.82 C157.15,437.12 161.04,435.56 163.67,435.11 C166.31,434.66 168.17,434.48 169.7,435.11 C171.23,435.74 172.59,437.49 172.86,438.87 C173.14,440.25 172.76,442.26 171.36,443.39 C169.95,444.52 167.09,445.27 164.43,445.65 C161.77,446.03 158.03,445.9 155.39,445.65 C152.76,445.4 149.74,444.4 148.61,444.14" fill="none" stroke="#a87272" stroke-width="5.6" stroke-linecap="round" stroke-linejoin="round"/>
<path d="M132.05,428.18 C132.05,429.18 131.3,432.57 132.05,434.2 C132.8,435.84 134.56,437.12 136.57,437.97 C138.57,438.82 141.21,439.35 144.1,439.33 C146.98,439.3 150.62,438.52 153.89,437.82 C157.15,437.12 161.04,435.56 163.67,435.11 C166.31,434.66 168.17,434.48 169.7,435.11 C171.23,435.74 172.59,437.49 172.86,438.87 C173.14,440.25 172.76,442.26 171.36,443.39 C169.95,444.52 167.09,445.27 164.43,445.65 C161.77,446.03 158.03,445.9 155.39,445.65 C152.76,445.4 149.74,444.4 148.61,444.14" fill="none" stroke="#f4aea8" stroke-width="4.1" stroke-linecap="round" stroke-linejoin="round"/>
<path d="M153.13,422.16 C153.89,421.84 156.14,420.27 157.65,420.27 C159.16,420.27 161.04,421.09 162.17,422.16 C163.3,423.22 163.3,426.42 164.43,426.67 C165.56,426.93 167.31,424.42 168.95,423.66 C170.58,422.91 172.99,421.78 174.22,422.16 C175.45,422.53 176.43,424.64 176.33,425.92 C176.22,427.2 175.22,428.93 173.61,429.84 C172.01,430.74 169.1,431.09 166.69,431.34 C164.28,431.59 161.16,431.09 159.16,431.34 C157.15,431.59 155.39,432.6 154.64,432.85" fill="none" stroke="#a87272" stroke-width="5.6" stroke-linecap="round" stroke-linejoin="round"/>
<path d="M153.13,422.16 C153.89,421.84 156.14,420.27 157.65,420.27 C159.16,420.27 161.04,421.09 162.17,422.16 C163.3,423.22 163.3,426.42 164.43,426.67 C165.56,426.93 167.31,424.42 168.95,423.66 C170.58,422.91 172.99,421.78 174.22,422.16 C175.45,422.53 176.43,424.64 176.33,425.92 C176.22,427.2 175.22,428.93 173.61,429.84 C172.01,430.74 169.1,431.09 166.69,431.34 C164.28,431.59 161.16,431.09 159.16,431.34 C157.15,431.59 155.39,432.6 154.64,432.85" fill="none" stroke="#f4aea8" stroke-width="4.1" stroke-linecap="round" stroke-linejoin="round"/>
<path d="M138.83,427.43 C139.45,427.05 141.71,426.3 142.59,425.17 C143.47,424.04 142.97,421.65 144.1,420.65 C145.23,419.65 147.99,418.89 149.37,419.14 C150.75,419.4 152,420.65 152.38,422.16 C152.76,423.66 152.51,426.67 151.63,428.18 C150.75,429.69 148.74,430.69 147.11,431.19 C145.48,431.69 142.72,431.19 141.84,431.19" fill="none" stroke="#a87272" stroke-width="5.6" stroke-linecap="round" stroke-linejoin="round"/>
<path d="M138.83,427.43 C139.45,427.05 141.71,426.3 142.59,425.17 C143.47,424.04 142.97,421.65 144.1,420.65 C145.23,419.65 147.99,418.89 149.37,419.14 C150.75,419.4 152,420.65 152.38,422.16 C152.76,423.66 152.51,426.67 151.63,428.18 C150.75,429.69 148.74,430.69 147.11,431.19 C145.48,431.69 142.72,431.19 141.84,431.19" fill="none" stroke="#f4aea8" stroke-width="4.1" stroke-linecap="round" stroke-linejoin="round"/>
<path d="M148.61,417.64 C147.61,417.07 145.1,414.69 142.59,414.25 C140.08,413.81 135.88,414.06 133.55,415 C131.23,415.94 129.35,418.08 128.66,419.9 C127.97,421.72 128.47,424.52 129.41,425.92 C130.35,427.33 132.74,428.08 134.31,428.33 C135.88,428.58 138.07,427.58 138.83,427.43" fill="none" stroke="#a87272" stroke-width="5.6" stroke-linecap="round" stroke-linejoin="round"/>
<path d="M148.61,417.64 C147.61,417.07 145.1,414.69 142.59,414.25 C140.08,413.81 135.88,414.06 133.55,415 C131.23,415.94 129.35,418.08 128.66,419.9 C127.97,421.72 128.47,424.52 129.41,425.92 C130.35,427.33 132.74,428.08 134.31,428.33 C135.88,428.58 138.07,427.58 138.83,427.43" fill="none" stroke="#f4aea8" stroke-width="4.1" stroke-linecap="round" stroke-linejoin="round"/>
<path d="M137.7,390.91 C137.41,392.1 135.65,395.86 135.96,398.06 C136.28,400.26 137.22,402.45 139.58,404.08 C141.94,405.72 146.73,406.66 150.12,407.85 C153.51,409.04 157.4,409.98 159.91,411.24 C162.42,412.49 164.03,413.81 165.18,415.38 C166.34,416.95 166.71,419.02 166.84,420.65 C166.96,422.28 166.08,424.42 165.93,425.17" fill="none" stroke="#a87272" stroke-width="5.6" stroke-linecap="round" stroke-linejoin="round"/>
<path d="M137.7,390.91 C137.41,392.1 135.65,395.86 135.96,398.06 C136.28,400.26 137.22,402.45 139.58,404.08 C141.94,405.72 146.73,406.66 150.12,407.85 C153.51,409.04 157.4,409.98 159.91,411.24 C162.42,412.49 164.03,413.81 165.18,415.38 C166.34,416.95 166.71,419.02 166.84,420.65 C166.96,422.28 166.08,424.42 165.93,425.17" fill="none" stroke="#f4aea8" stroke-width="4.1" stroke-linecap="round" stroke-linejoin="round"/>
<path d="M195.4,440.92 C197.75,440.92 203.99,441.14 209.1,443.27 C214.21,445.4 221.28,450.23 226.07,453.71 C230.86,457.19 235.03,460.67 237.82,464.15 C240.6,467.63 241.77,471.22 242.78,474.6 C243.78,477.97 244.21,482.58 243.82,484.38 C243.43,486.19 242.73,486.41 240.43,485.43 C238.12,484.45 233.9,481.62 229.99,478.51 C226.07,475.4 220.63,470.68 216.93,466.76 C213.24,462.85 210.41,458.39 207.8,455.02 C205.19,451.65 203.4,448.49 201.27,446.53 C199.14,444.58 195.99,444.21 195.01,443.27 C194.03,442.34 193.05,440.92 195.4,440.92Z" fill="#d85a5e" stroke="#7a2a30" stroke-width="0.8" stroke-linejoin="round" />
<path d="M198.66,443.27 C201.49,445.23 209.97,450.89 215.63,455.02 C221.28,459.15 228.35,463.5 232.6,468.07 C236.84,472.64 239.66,480.03 241.08,482.43" fill="none" stroke="#e8787c" stroke-width="0.7" stroke-linejoin="round" />
<path d="M202.58,444.58 C205.84,446.75 216.28,453.06 222.15,457.63 C228.03,462.2 235.21,469.59 237.82,471.99" fill="none" stroke="#c04a50" stroke-width="0.5" stroke-linejoin="round" />
<ellipse cx="191.87" cy="442.23" rx="3.3" ry="2.1" fill="#fafafa" stroke="#666" stroke-width="0.7" transform="rotate(5 191.87 442.23)"/>
<ellipse cx="244.34" cy="487.39" rx="3.3" ry="2.5" fill="#fafafa" stroke="#666" stroke-width="0.7" transform="rotate(40 244.34 487.39)"/>
<path d="M295.24,431.53 C297.24,431.81 300.77,432.83 302.03,434.79 C303.29,436.75 303.23,440.34 302.81,443.27 C302.4,446.21 300.01,448.93 299.55,452.41 C299.09,455.89 299.44,460.46 300.07,464.15 C300.7,467.85 302.94,471.55 303.33,474.6 C303.73,477.64 303.55,480.64 302.42,482.43 C301.29,484.21 298.57,485.62 296.55,485.3 C294.52,484.97 292.13,483.34 290.28,480.47 C288.43,477.6 286.48,472.53 285.45,468.07 C284.43,463.61 284.04,458.28 284.15,453.71 C284.26,449.15 285.13,444.1 286.11,440.66 C287.09,437.22 288.5,434.61 290.02,433.09 C291.54,431.57 293.24,431.24 295.24,431.53Z" fill="#a8404a" stroke="#6a2028" stroke-width="0.8" stroke-linejoin="round" />
<path d="M280.32,343.15 C283,343.05 290.5,342.56 296.39,342.51 C302.28,342.46 309.24,342.46 315.66,342.83 C322.09,343.21 330.12,343.69 334.94,344.76 C339.76,345.83 342.49,347.44 344.58,349.26 C346.67,351.08 347.07,353.81 347.47,355.68 C347.87,357.56 347.07,359.7 346.99,360.5" fill="none" stroke="#9a6060" stroke-width="3.6" stroke-linecap="round"/>
<path d="M280.32,343.15 C283,343.05 290.5,342.56 296.39,342.51 C302.28,342.46 309.24,342.46 315.66,342.83 C322.09,343.21 330.12,343.69 334.94,344.76 C339.76,345.83 342.49,347.44 344.58,349.26 C346.67,351.08 347.07,353.81 347.47,355.68 C347.87,357.56 347.07,359.7 346.99,360.5" fill="none" stroke="#c98585" stroke-width="2.6" stroke-linecap="round"/>
<path d="M233.16,343.89 C234.27,343.35 236.71,342.88 239.13,342.78 C241.55,342.68 244.53,343.15 247.66,343.29 C250.79,343.43 255.55,343.06 257.9,343.63 C260.25,344.2 263.45,346.08 261.74,346.7 C260.03,347.33 251.72,347.33 247.66,347.39 C243.61,347.44 239.95,347.27 237.42,347.04 C234.89,346.82 233.19,346.55 232.47,346.02 C231.76,345.49 232.05,344.43 233.16,343.89Z" fill="#d6a0a0" stroke="#9a6a6a" stroke-width="0.5" stroke-linejoin="round" />
<path d="M210.12,317.44 C210.12,316.13 211.97,314.81 213.53,312.74 C215.1,310.68 217.59,307.41 219.51,305.06 C221.42,302.72 223.98,300.44 225.05,298.67 C226.12,296.89 225.26,295.39 225.9,294.4 C226.54,293.4 227.9,292.76 228.89,292.69 C229.89,292.62 231.09,293.19 231.88,293.97 C232.66,294.75 231.66,295.96 233.58,297.39 C235.5,298.81 239.63,301.94 243.4,302.51 C247.16,303.07 251.93,300.51 256.19,300.8 C260.46,301.08 265.15,302.36 268.99,304.21 C272.83,306.06 276.67,309.19 279.23,311.89 C281.79,314.59 283.43,317.72 284.35,320.42 C285.28,323.13 285.13,325.54 284.78,328.1 C284.42,330.66 282.83,333.65 282.22,335.78 C281.61,337.91 281.58,339.08 281.11,340.9 C280.64,342.72 282.84,345.68 279.4,346.7 C275.96,347.73 264.33,347.56 260.46,347.04 C256.59,346.53 258.9,344.11 256.19,343.63 C253.49,343.15 246.95,344.81 244.25,344.14 C241.55,343.47 241.12,341.3 239.98,339.62 C238.85,337.94 238.99,335.85 237.42,334.08 C235.86,332.3 232.45,330.38 230.6,328.96 C228.75,327.53 228.04,326.68 226.33,325.54 C224.62,324.41 222.49,322.95 220.36,322.13 C218.23,321.3 215.24,321.38 213.53,320.59 C211.83,319.81 210.12,318.75 210.12,317.44Z" fill="#4d4846" stroke="#2e2a2a" stroke-width="0.6" stroke-linejoin="round" />
<path d="M237.42,334.08 C238.13,334.93 240.41,337.56 241.69,339.19 C242.97,340.83 244.53,343.11 245.1,343.89" fill="none" stroke="#36312f" stroke-width="0.7" stroke-linejoin="round" />
<path d="M256.19,343.63 C256.76,342.32 257.9,337.94 259.61,335.78 C261.31,333.62 264.16,331.8 266.43,330.66 C268.71,329.52 272.12,329.24 273.26,328.96" fill="none" stroke="#403b39" stroke-width="0.5" stroke-linejoin="round" />
<ellipse cx="237.85" cy="300.80" rx="5.6" ry="5.9" fill="#a06a6a" stroke="#3a3434" stroke-width="0.6"/>
<ellipse cx="238.45" cy="301.65" rx="3.9" ry="4.6" fill="#d69c9c"/>
<path d="M216.95,322.98 C217.66,322 220.33,321.6 222.06,321.53 C223.8,321.46 226.33,321.77 227.35,322.56 C228.38,323.34 228.81,325.27 228.21,326.23 C227.61,327.18 225.51,328.07 223.77,328.27 C222.04,328.47 218.94,328.3 217.8,327.42 C216.66,326.54 216.23,323.96 216.95,322.98Z" fill="#d6a0a0" stroke="#9a6a6a" stroke-width="0.5" stroke-linejoin="round" />
<circle cx="223.09" cy="309.33" r="1.4" fill="#111"/>
<circle cx="210.29" cy="317.44" r="1.3" fill="#d8a0a0"/>
<line x1="205.85" y1="310.18" x2="210.97" y2="315.30" stroke="#c8c8c8" stroke-width="0.4"/>
<line x1="206.28" y1="313.60" x2="210.97" y2="316.16" stroke="#c8c8c8" stroke-width="0.4"/>
<line x1="206.71" y1="316.58" x2="210.55" y2="317.01" stroke="#c8c8c8" stroke-width="0.4"/>
<use href="#macro" transform="translate(636.3,265.4) scale(1.0)"/>
<use href="#macro" transform="translate(107.3,778) scale(1.0)"/>
<use href="#dead" transform="translate(778,260) scale(1.0)"/>
<use href="#dead" transform="translate(239.9,773) scale(1.0)"/>
<use href="#dead" transform="translate(238.5,879.8) scale(1.0)"/>
<use href="#ecp" transform="translate(630,328) scale(1.0)"/>
<use href="#ecp" transform="translate(782,328) scale(1.0)"/>
<use href="#ecp" transform="translate(106.9,877.4) scale(1.03)"/>
<use href="#ecp" transform="translate(649.6,745.8) scale(1.03)"/>
<use href="#ecr" transform="translate(802.6,745.7) scale(1.05)"/>
<use href="#ecr" transform="translate(833.5,745.7) scale(1.05)"/>
<use href="#garrow" transform="translate(704.5,292) scale(1.0)"/>
<use href="#garrow" transform="translate(704.5,360.6) scale(1.0)"/>
<use href="#garrow" transform="translate(175.3,805.3) scale(1.0)"/>
<use href="#garrow" transform="translate(175,912.3) scale(1.0)"/>
<use href="#garrow" transform="translate(724.5,779.8) scale(1.03)"/>
<g transform="translate(602,407) scale(1.0,0.99)"><use href="#liver"/><ellipse cx="26.42" cy="10.96" rx="4.42" ry="2.76" transform="rotate(0 26.42 10.96)" fill="#dc8a92" opacity="0.45"/><ellipse cx="14.27" cy="20.90" rx="3.31" ry="3.31" transform="rotate(0 14.27 20.90)" fill="#dc8a92" opacity="0.45"/><ellipse cx="39.67" cy="24.22" rx="4.42" ry="4.42" transform="rotate(0 39.67 24.22)" fill="#dc8a92" opacity="0.45"/><ellipse cx="25.31" cy="39.68" rx="3.31" ry="4.42" transform="rotate(0 25.31 39.68)" fill="#dc8a92" opacity="0.45"/><ellipse cx="77.22" cy="15.38" rx="4.42" ry="4.42" transform="rotate(0 77.22 15.38)" fill="#dc8a92" opacity="0.45"/><ellipse cx="88.26" cy="22.01" rx="3.31" ry="2.76" transform="rotate(0 88.26 22.01)" fill="#dc8a92" opacity="0.45"/><ellipse cx="18.68" cy="12.07" rx="3.87" ry="6.07" transform="rotate(20 18.68 12.07)" fill="#b8525e" opacity="0.55"/><ellipse cx="33.04" cy="8.75" rx="1.66" ry="3.87" transform="rotate(0 33.04 8.75)" fill="#b8525e" opacity="0.55"/><ellipse cx="44.09" cy="13.17" rx="4.42" ry="2.43" transform="rotate(-10 44.09 13.17)" fill="#b8525e" opacity="0.55"/><ellipse cx="6.54" cy="28.63" rx="3.87" ry="5.52" transform="rotate(10 6.54 28.63)" fill="#b8525e" opacity="0.55"/><ellipse cx="20.89" cy="26.42" rx="4.97" ry="2.43" transform="rotate(20 20.89 26.42)" fill="#b8525e" opacity="0.55"/><ellipse cx="31.94" cy="28.63" rx="3.87" ry="2.43" transform="rotate(-10 31.94 28.63)" fill="#b8525e" opacity="0.55"/><ellipse cx="34.15" cy="38.57" rx="5.52" ry="3.87" transform="rotate(-30 34.15 38.57)" fill="#b8525e" opacity="0.55"/><ellipse cx="45.19" cy="37.47" rx="3.09" ry="5.52" transform="rotate(0 45.19 37.47)" fill="#b8525e" opacity="0.55"/><ellipse cx="8.74" cy="51.83" rx="3.09" ry="4.42" transform="rotate(20 8.74 51.83)" fill="#b8525e" opacity="0.55"/><ellipse cx="64.52" cy="17.59" rx="3.87" ry="6.63" transform="rotate(0 64.52 17.59)" fill="#b8525e" opacity="0.55"/><ellipse cx="73.91" cy="24.22" rx="4.97" ry="2.43" transform="rotate(0 73.91 24.22)" fill="#b8525e" opacity="0.55"/><ellipse cx="93.78" cy="9.86" rx="2.43" ry="4.42" transform="rotate(20 93.78 9.86)" fill="#b8525e" opacity="0.55"/><ellipse cx="69.49" cy="34.15" rx="4.97" ry="1.99" transform="rotate(-20 69.49 34.15)" fill="#b8525e" opacity="0.55"/><ellipse cx="25.31" cy="48.51" rx="4.42" ry="2.21" transform="rotate(-20 25.31 48.51)" fill="#b8525e" opacity="0.55"/><line x1="26.02" y1="15.81" x2="39.27" y2="21.54" stroke="#952838" stroke-width="0.55"/><line x1="30.97" y1="9.88" x2="33.08" y2="23.86" stroke="#952838" stroke-width="0.55"/><line x1="36.87" y1="15.03" x2="26.47" y2="21.93" stroke="#952838" stroke-width="0.55"/><line x1="38.57" y1="11.08" x2="31.72" y2="22.68" stroke="#952838" stroke-width="0.55"/><line x1="26.84" y1="17.00" x2="39.43" y2="18.20" stroke="#952838" stroke-width="0.55"/><line x1="32.21" y1="13.51" x2="34.50" y2="23.84" stroke="#952838" stroke-width="0.55"/><line x1="29.46" y1="14.33" x2="37.42" y2="21.43" stroke="#952838" stroke-width="0.55"/><line x1="26.93" y1="17.05" x2="41.36" y2="17.91" stroke="#952838" stroke-width="0.55"/><line x1="40.24" y1="19.43" x2="25.65" y2="19.67" stroke="#952838" stroke-width="0.55"/><line x1="39.51" y1="14.67" x2="30.23" y2="24.03" stroke="#952838" stroke-width="0.55"/><line x1="31.19" y1="12.71" x2="38.67" y2="24.72" stroke="#952838" stroke-width="0.55"/><line x1="22.08" y1="40.40" x2="9.23" y2="41.92" stroke="#952838" stroke-width="0.55"/><line x1="21.26" y1="35.44" x2="13.49" y2="44.86" stroke="#952838" stroke-width="0.55"/><line x1="17.78" y1="34.06" x2="15.57" y2="47.26" stroke="#952838" stroke-width="0.55"/><line x1="23.34" y1="38.54" x2="10.35" y2="38.77" stroke="#952838" stroke-width="0.55"/><line x1="12.40" y1="38.36" x2="20.45" y2="39.93" stroke="#952838" stroke-width="0.55"/><line x1="21.22" y1="35.15" x2="11.09" y2="40.00" stroke="#952838" stroke-width="0.55"/><line x1="16.41" y1="34.39" x2="20.94" y2="46.51" stroke="#952838" stroke-width="0.55"/><line x1="12.47" y1="37.08" x2="23.14" y2="45.86" stroke="#952838" stroke-width="0.55"/><line x1="23.08" y1="37.28" x2="14.16" y2="46.16" stroke="#952838" stroke-width="0.55"/><line x1="11.67" y1="36.01" x2="22.12" y2="43.61" stroke="#952838" stroke-width="0.55"/><line x1="17.92" y1="31.96" x2="18.33" y2="46.10" stroke="#952838" stroke-width="0.55"/><line x1="78.56" y1="10.22" x2="86.51" y2="16.96" stroke="#952838" stroke-width="0.55"/><line x1="77.46" y1="11.02" x2="85.32" y2="13.56" stroke="#952838" stroke-width="0.55"/><line x1="87.33" y1="13.55" x2="76.89" y2="13.72" stroke="#952838" stroke-width="0.55"/><line x1="77.23" y1="11.11" x2="87.30" y2="16.83" stroke="#952838" stroke-width="0.55"/><line x1="84.62" y1="7.37" x2="80.36" y2="17.65" stroke="#952838" stroke-width="0.55"/><line x1="76.67" y1="13.92" x2="89.15" y2="14.93" stroke="#952838" stroke-width="0.55"/><line x1="87.18" y1="9.06" x2="79.19" y2="16.92" stroke="#952838" stroke-width="0.55"/><line x1="87.16" y1="11.38" x2="74.81" y2="13.08" stroke="#952838" stroke-width="0.55"/><line x1="86.63" y1="12.58" x2="76.43" y2="13.80" stroke="#952838" stroke-width="0.55"/></g>
<g transform="translate(797.3,407.5) scale(1.0,1.0)"><use href="#liver"/><ellipse cx="69.49" cy="31.95" rx="4.97" ry="2.76" transform="rotate(-10 69.49 31.95)" fill="#b8525e" opacity="0.5"/><ellipse cx="8.74" cy="50.72" rx="3.31" ry="4.97" transform="rotate(20 8.74 50.72)" fill="#b8525e" opacity="0.5"/><line x1="27.52" y1="16.48" x2="39.67" y2="24.22" stroke="#8e2a38" stroke-width="0.7"/><line x1="38.56" y1="17.59" x2="29.73" y2="24.77" stroke="#8e2a38" stroke-width="0.7"/><line x1="14.27" y1="33.05" x2="21.45" y2="47.41" stroke="#8e2a38" stroke-width="0.7"/><line x1="18.68" y1="33.05" x2="13.16" y2="47.41" stroke="#8e2a38" stroke-width="0.7"/><line x1="75.56" y1="9.31" x2="84.95" y2="19.25" stroke="#8e2a38" stroke-width="0.7"/><line x1="77.77" y1="8.75" x2="86.61" y2="18.14" stroke="#8e2a38" stroke-width="0.7"/><line x1="32.82" y1="5.44" x2="33.26" y2="10.96" stroke="#8e2a38" stroke-width="0.7"/></g>
<g transform="translate(312.8,766.1) scale(1.01,1.01)"><use href="#liver"/><ellipse cx="10.95" cy="8.75" rx="2.76" ry="4.97" transform="rotate(20 10.95 8.75)" fill="#b8525e" opacity="0.5"/><ellipse cx="30.83" cy="13.17" rx="4.42" ry="2.43" transform="rotate(0 30.83 13.17)" fill="#b8525e" opacity="0.5"/><ellipse cx="25.31" cy="24.22" rx="4.42" ry="2.76" transform="rotate(20 25.31 24.22)" fill="#b8525e" opacity="0.5"/><ellipse cx="8.74" cy="48.51" rx="3.31" ry="4.42" transform="rotate(20 8.74 48.51)" fill="#b8525e" opacity="0.5"/><ellipse cx="66.17" cy="23.11" rx="4.42" ry="2.21" transform="rotate(0 66.17 23.11)" fill="#b8525e" opacity="0.5"/><ellipse cx="45.19" cy="31.95" rx="3.31" ry="4.42" transform="rotate(0 45.19 31.95)" fill="#b8525e" opacity="0.5"/><line x1="24.21" y1="13.17" x2="34.15" y2="22.01" stroke="#8e2a38" stroke-width="0.7"/><line x1="34.15" y1="15.38" x2="26.42" y2="22.01" stroke="#8e2a38" stroke-width="0.7"/><line x1="26.42" y1="18.69" x2="35.25" y2="17.59" stroke="#8e2a38" stroke-width="0.7"/><line x1="25.31" y1="14.28" x2="30.83" y2="22.01" stroke="#8e2a38" stroke-width="0.7"/><line x1="13.16" y1="24.22" x2="18.68" y2="38.57" stroke="#8e2a38" stroke-width="0.7"/><line x1="16.48" y1="24.22" x2="13.16" y2="38.57" stroke="#8e2a38" stroke-width="0.7"/><line x1="12.06" y1="30.84" x2="20.89" y2="28.63" stroke="#8e2a38" stroke-width="0.7"/><line x1="15.37" y1="23.11" x2="17.03" y2="38.57" stroke="#8e2a38" stroke-width="0.7"/><line x1="78.32" y1="8.75" x2="88.26" y2="14.28" stroke="#8e2a38" stroke-width="0.7"/><line x1="81.64" y1="7.65" x2="84.95" y2="16.48" stroke="#8e2a38" stroke-width="0.7"/><line x1="77.22" y1="13.17" x2="88.26" y2="10.96" stroke="#8e2a38" stroke-width="0.7"/><line x1="79.98" y1="8.20" x2="86.61" y2="15.38" stroke="#8e2a38" stroke-width="0.7"/></g>
<g transform="translate(310.4,878) scale(1.02,1.02)"><use href="#liver"/><ellipse cx="26.42" cy="10.96" rx="4.42" ry="2.76" transform="rotate(0 26.42 10.96)" fill="#dc8a92" opacity="0.4"/><ellipse cx="14.27" cy="20.90" rx="3.31" ry="3.31" transform="rotate(0 14.27 20.90)" fill="#dc8a92" opacity="0.4"/><ellipse cx="39.67" cy="24.22" rx="4.42" ry="4.42" transform="rotate(0 39.67 24.22)" fill="#dc8a92" opacity="0.4"/><ellipse cx="25.31" cy="39.68" rx="3.31" ry="4.42" transform="rotate(0 25.31 39.68)" fill="#dc8a92" opacity="0.4"/><ellipse cx="77.22" cy="15.38" rx="4.42" ry="4.42" transform="rotate(0 77.22 15.38)" fill="#dc8a92" opacity="0.4"/><ellipse cx="88.26" cy="22.01" rx="3.31" ry="2.76" transform="rotate(0 88.26 22.01)" fill="#dc8a92" opacity="0.4"/><ellipse cx="18.68" cy="12.07" rx="3.87" ry="6.07" transform="rotate(20 18.68 12.07)" fill="#b8525e" opacity="0.55"/><ellipse cx="33.04" cy="8.75" rx="1.66" ry="3.87" transform="rotate(0 33.04 8.75)" fill="#b8525e" opacity="0.55"/><ellipse cx="44.09" cy="13.17" rx="4.42" ry="2.43" transform="rotate(-10 44.09 13.17)" fill="#b8525e" opacity="0.55"/><ellipse cx="6.54" cy="28.63" rx="3.87" ry="5.52" transform="rotate(10 6.54 28.63)" fill="#b8525e" opacity="0.55"/><ellipse cx="20.89" cy="26.42" rx="4.97" ry="2.43" transform="rotate(20 20.89 26.42)" fill="#b8525e" opacity="0.55"/><ellipse cx="31.94" cy="28.63" rx="3.87" ry="2.43" transform="rotate(-10 31.94 28.63)" fill="#b8525e" opacity="0.55"/><ellipse cx="34.15" cy="38.57" rx="5.52" ry="3.87" transform="rotate(-30 34.15 38.57)" fill="#b8525e" opacity="0.55"/><ellipse cx="45.19" cy="37.47" rx="3.09" ry="5.52" transform="rotate(0 45.19 37.47)" fill="#b8525e" opacity="0.55"/><ellipse cx="8.74" cy="51.83" rx="3.09" ry="4.42" transform="rotate(20 8.74 51.83)" fill="#b8525e" opacity="0.55"/><ellipse cx="64.52" cy="17.59" rx="3.87" ry="6.63" transform="rotate(0 64.52 17.59)" fill="#b8525e" opacity="0.55"/><ellipse cx="73.91" cy="24.22" rx="4.97" ry="2.43" transform="rotate(0 73.91 24.22)" fill="#b8525e" opacity="0.55"/><ellipse cx="93.78" cy="9.86" rx="2.43" ry="4.42" transform="rotate(20 93.78 9.86)" fill="#b8525e" opacity="0.55"/><ellipse cx="69.49" cy="34.15" rx="4.97" ry="1.99" transform="rotate(-20 69.49 34.15)" fill="#b8525e" opacity="0.55"/><ellipse cx="25.31" cy="48.51" rx="4.42" ry="2.21" transform="rotate(-20 25.31 48.51)" fill="#b8525e" opacity="0.55"/><line x1="13.30" y1="10.55" x2="19.57" y2="17.34" stroke="#952838" stroke-width="0.55"/><line x1="16.51" y1="8.65" x2="20.41" y2="20.27" stroke="#952838" stroke-width="0.55"/><line x1="16.82" y1="10.03" x2="15.73" y2="18.84" stroke="#952838" stroke-width="0.55"/><line x1="24.59" y1="12.98" x2="12.56" y2="15.74" stroke="#952838" stroke-width="0.55"/><line x1="15.58" y1="11.75" x2="21.93" y2="21.53" stroke="#952838" stroke-width="0.55"/><line x1="12.22" y1="12.76" x2="22.98" y2="15.86" stroke="#952838" stroke-width="0.55"/><line x1="18.44" y1="9.11" x2="19.14" y2="21.97" stroke="#952838" stroke-width="0.55"/><line x1="15.10" y1="12.09" x2="22.60" y2="20.98" stroke="#952838" stroke-width="0.55"/><line x1="17.48" y1="8.70" x2="17.22" y2="19.82" stroke="#952838" stroke-width="0.55"/><line x1="12.55" y1="12.45" x2="19.60" y2="19.15" stroke="#952838" stroke-width="0.55"/><line x1="13.63" y1="13.00" x2="20.49" y2="21.06" stroke="#952838" stroke-width="0.55"/><line x1="40.85" y1="14.26" x2="36.75" y2="24.59" stroke="#952838" stroke-width="0.55"/><line x1="42.41" y1="17.99" x2="35.20" y2="20.30" stroke="#952838" stroke-width="0.55"/><line x1="40.42" y1="17.36" x2="32.96" y2="20.29" stroke="#952838" stroke-width="0.55"/><line x1="37.64" y1="15.90" x2="35.94" y2="24.02" stroke="#952838" stroke-width="0.55"/><line x1="39.35" y1="15.30" x2="33.37" y2="22.80" stroke="#952838" stroke-width="0.55"/><line x1="33.21" y1="15.60" x2="39.94" y2="20.06" stroke="#952838" stroke-width="0.55"/><line x1="44.62" y1="18.57" x2="33.11" y2="19.05" stroke="#952838" stroke-width="0.55"/><line x1="40.23" y1="15.08" x2="35.84" y2="25.14" stroke="#952838" stroke-width="0.55"/><line x1="40.57" y1="16.14" x2="32.32" y2="19.10" stroke="#952838" stroke-width="0.55"/><line x1="31.67" y1="18.19" x2="40.24" y2="20.27" stroke="#952838" stroke-width="0.55"/><line x1="35.26" y1="13.21" x2="39.54" y2="23.05" stroke="#952838" stroke-width="0.55"/><line x1="21.35" y1="31.42" x2="12.36" y2="39.38" stroke="#952838" stroke-width="0.55"/><line x1="19.54" y1="32.06" x2="14.85" y2="45.12" stroke="#952838" stroke-width="0.55"/><line x1="13.66" y1="32.04" x2="20.98" y2="43.21" stroke="#952838" stroke-width="0.55"/><line x1="20.73" y1="30.78" x2="16.28" y2="42.22" stroke="#952838" stroke-width="0.55"/><line x1="21.41" y1="31.28" x2="12.75" y2="40.28" stroke="#952838" stroke-width="0.55"/><line x1="20.88" y1="32.43" x2="11.81" y2="40.00" stroke="#952838" stroke-width="0.55"/><line x1="19.64" y1="28.83" x2="16.06" y2="43.63" stroke="#952838" stroke-width="0.55"/><line x1="20.94" y1="30.41" x2="16.70" y2="44.65" stroke="#952838" stroke-width="0.55"/><line x1="21.37" y1="28.65" x2="16.68" y2="42.38" stroke="#952838" stroke-width="0.55"/><line x1="15.70" y1="30.35" x2="20.00" y2="41.19" stroke="#952838" stroke-width="0.55"/><line x1="22.65" y1="34.72" x2="13.50" y2="38.66" stroke="#952838" stroke-width="0.55"/><line x1="38.47" y1="30.92" x2="42.69" y2="39.81" stroke="#952838" stroke-width="0.55"/><line x1="38.92" y1="30.61" x2="42.02" y2="39.51" stroke="#952838" stroke-width="0.55"/><line x1="39.10" y1="33.10" x2="46.64" y2="35.13" stroke="#952838" stroke-width="0.55"/><line x1="38.16" y1="31.11" x2="46.06" y2="38.78" stroke="#952838" stroke-width="0.55"/><line x1="44.99" y1="33.75" x2="37.49" y2="34.61" stroke="#952838" stroke-width="0.55"/><line x1="36.81" y1="33.47" x2="45.00" y2="37.54" stroke="#952838" stroke-width="0.55"/><line x1="42.47" y1="29.41" x2="38.63" y2="38.43" stroke="#952838" stroke-width="0.55"/><line x1="37.09" y1="32.70" x2="45.54" y2="38.34" stroke="#952838" stroke-width="0.55"/><line x1="41.84" y1="28.97" x2="43.12" y2="40.00" stroke="#952838" stroke-width="0.55"/><line x1="43.71" y1="29.00" x2="41.43" y2="40.23" stroke="#952838" stroke-width="0.55"/><line x1="64.48" y1="21.48" x2="73.53" y2="26.64" stroke="#952838" stroke-width="0.55"/><line x1="64.49" y1="22.28" x2="73.14" y2="28.11" stroke="#952838" stroke-width="0.55"/><line x1="68.68" y1="20.01" x2="70.10" y2="28.14" stroke="#952838" stroke-width="0.55"/><line x1="65.36" y1="23.66" x2="70.84" y2="29.42" stroke="#952838" stroke-width="0.55"/><line x1="68.42" y1="20.02" x2="71.33" y2="27.96" stroke="#952838" stroke-width="0.55"/><line x1="69.57" y1="21.02" x2="66.21" y2="30.78" stroke="#952838" stroke-width="0.55"/><line x1="68.59" y1="18.40" x2="68.67" y2="30.07" stroke="#952838" stroke-width="0.55"/><line x1="61.63" y1="25.70" x2="73.28" y2="27.64" stroke="#952838" stroke-width="0.55"/><line x1="69.06" y1="19.28" x2="66.40" y2="30.49" stroke="#952838" stroke-width="0.55"/><line x1="70.85" y1="23.84" x2="63.48" y2="27.95" stroke="#952838" stroke-width="0.55"/><line x1="82.17" y1="7.11" x2="83.13" y2="14.30" stroke="#952838" stroke-width="0.55"/><line x1="81.83" y1="8.90" x2="81.74" y2="15.88" stroke="#952838" stroke-width="0.55"/><line x1="77.39" y1="12.06" x2="85.62" y2="13.31" stroke="#952838" stroke-width="0.55"/><line x1="78.27" y1="11.55" x2="85.03" y2="14.92" stroke="#952838" stroke-width="0.55"/><line x1="83.72" y1="6.97" x2="80.91" y2="14.96" stroke="#952838" stroke-width="0.55"/><line x1="78.49" y1="7.03" x2="84.35" y2="14.82" stroke="#952838" stroke-width="0.55"/><line x1="79.96" y1="8.31" x2="85.02" y2="14.16" stroke="#952838" stroke-width="0.55"/><line x1="86.23" y1="10.84" x2="76.38" y2="13.24" stroke="#952838" stroke-width="0.55"/><line x1="76.33" y1="11.94" x2="84.80" y2="12.73" stroke="#952838" stroke-width="0.55"/></g>
<g transform="translate(593.4,877.2) scale(1.0,1.01)"><use href="#liver"/><ellipse cx="26.42" cy="10.96" rx="4.42" ry="2.76" transform="rotate(0 26.42 10.96)" fill="#dc8a92" opacity="0.45"/><ellipse cx="14.27" cy="20.90" rx="3.31" ry="3.31" transform="rotate(0 14.27 20.90)" fill="#dc8a92" opacity="0.45"/><ellipse cx="39.67" cy="24.22" rx="4.42" ry="4.42" transform="rotate(0 39.67 24.22)" fill="#dc8a92" opacity="0.45"/><ellipse cx="25.31" cy="39.68" rx="3.31" ry="4.42" transform="rotate(0 25.31 39.68)" fill="#dc8a92" opacity="0.45"/><ellipse cx="77.22" cy="15.38" rx="4.42" ry="4.42" transform="rotate(0 77.22 15.38)" fill="#dc8a92" opacity="0.45"/><ellipse cx="88.26" cy="22.01" rx="3.31" ry="2.76" transform="rotate(0 88.26 22.01)" fill="#dc8a92" opacity="0.45"/><ellipse cx="18.68" cy="12.07" rx="3.87" ry="6.07" transform="rotate(20 18.68 12.07)" fill="#b8525e" opacity="0.55"/><ellipse cx="33.04" cy="8.75" rx="1.66" ry="3.87" transform="rotate(0 33.04 8.75)" fill="#b8525e" opacity="0.55"/><ellipse cx="44.09" cy="13.17" rx="4.42" ry="2.43" transform="rotate(-10 44.09 13.17)" fill="#b8525e" opacity="0.55"/><ellipse cx="6.54" cy="28.63" rx="3.87" ry="5.52" transform="rotate(10 6.54 28.63)" fill="#b8525e" opacity="0.55"/><ellipse cx="20.89" cy="26.42" rx="4.97" ry="2.43" transform="rotate(20 20.89 26.42)" fill="#b8525e" opacity="0.55"/><ellipse cx="31.94" cy="28.63" rx="3.87" ry="2.43" transform="rotate(-10 31.94 28.63)" fill="#b8525e" opacity="0.55"/><ellipse cx="34.15" cy="38.57" rx="5.52" ry="3.87" transform="rotate(-30 34.15 38.57)" fill="#b8525e" opacity="0.55"/><ellipse cx="45.19" cy="37.47" rx="3.09" ry="5.52" transform="rotate(0 45.19 37.47)" fill="#b8525e" opacity="0.55"/><ellipse cx="8.74" cy="51.83" rx="3.09" ry="4.42" transform="rotate(20 8.74 51.83)" fill="#b8525e" opacity="0.55"/><ellipse cx="64.52" cy="17.59" rx="3.87" ry="6.63" transform="rotate(0 64.52 17.59)" fill="#b8525e" opacity="0.55"/><ellipse cx="73.91" cy="24.22" rx="4.97" ry="2.43" transform="rotate(0 73.91 24.22)" fill="#b8525e" opacity="0.55"/><ellipse cx="93.78" cy="9.86" rx="2.43" ry="4.42" transform="rotate(20 93.78 9.86)" fill="#b8525e" opacity="0.55"/><ellipse cx="69.49" cy="34.15" rx="4.97" ry="1.99" transform="rotate(-20 69.49 34.15)" fill="#b8525e" opacity="0.55"/><ellipse cx="25.31" cy="48.51" rx="4.42" ry="2.21" transform="rotate(-20 25.31 48.51)" fill="#b8525e" opacity="0.55"/><line x1="33.14" y1="11.84" x2="34.90" y2="25.60" stroke="#952838" stroke-width="0.55"/><line x1="35.92" y1="14.18" x2="33.30" y2="25.31" stroke="#952838" stroke-width="0.55"/><line x1="30.30" y1="18.06" x2="40.21" y2="20.72" stroke="#952838" stroke-width="0.55"/><line x1="27.63" y1="18.18" x2="41.76" y2="20.04" stroke="#952838" stroke-width="0.55"/><line x1="28.74" y1="14.82" x2="36.39" y2="20.35" stroke="#952838" stroke-width="0.55"/><line x1="30.75" y1="16.04" x2="37.12" y2="23.81" stroke="#952838" stroke-width="0.55"/><line x1="35.10" y1="12.81" x2="34.36" y2="24.27" stroke="#952838" stroke-width="0.55"/><line x1="30.76" y1="13.94" x2="39.97" y2="24.93" stroke="#952838" stroke-width="0.55"/><line x1="29.88" y1="15.35" x2="35.33" y2="23.94" stroke="#952838" stroke-width="0.55"/><line x1="33.72" y1="14.79" x2="37.86" y2="25.09" stroke="#952838" stroke-width="0.55"/><line x1="29.13" y1="20.41" x2="38.95" y2="20.43" stroke="#952838" stroke-width="0.55"/><line x1="14.83" y1="28.78" x2="15.75" y2="44.04" stroke="#952838" stroke-width="0.55"/><line x1="15.30" y1="31.48" x2="18.91" y2="46.56" stroke="#952838" stroke-width="0.55"/><line x1="17.32" y1="31.36" x2="15.24" y2="42.80" stroke="#952838" stroke-width="0.55"/><line x1="19.02" y1="37.01" x2="11.11" y2="41.78" stroke="#952838" stroke-width="0.55"/><line x1="12.41" y1="29.42" x2="17.35" y2="43.85" stroke="#952838" stroke-width="0.55"/><line x1="23.23" y1="39.06" x2="12.95" y2="42.03" stroke="#952838" stroke-width="0.55"/><line x1="11.07" y1="37.11" x2="20.64" y2="41.11" stroke="#952838" stroke-width="0.55"/><line x1="10.31" y1="37.27" x2="20.46" y2="42.66" stroke="#952838" stroke-width="0.55"/><line x1="14.83" y1="31.01" x2="17.96" y2="45.11" stroke="#952838" stroke-width="0.55"/><line x1="12.18" y1="38.46" x2="23.93" y2="40.13" stroke="#952838" stroke-width="0.55"/><line x1="14.90" y1="29.90" x2="19.20" y2="43.83" stroke="#952838" stroke-width="0.55"/><line x1="80.15" y1="8.36" x2="87.45" y2="16.07" stroke="#952838" stroke-width="0.55"/><line x1="80.45" y1="9.27" x2="86.45" y2="14.83" stroke="#952838" stroke-width="0.55"/><line x1="82.94" y1="9.86" x2="82.12" y2="18.54" stroke="#952838" stroke-width="0.55"/><line x1="82.90" y1="10.23" x2="80.44" y2="18.37" stroke="#952838" stroke-width="0.55"/><line x1="88.12" y1="11.35" x2="78.85" y2="17.72" stroke="#952838" stroke-width="0.55"/><line x1="86.10" y1="10.50" x2="79.30" y2="17.39" stroke="#952838" stroke-width="0.55"/><line x1="83.47" y1="8.17" x2="81.59" y2="17.04" stroke="#952838" stroke-width="0.55"/><line x1="78.96" y1="11.74" x2="89.47" y2="15.76" stroke="#952838" stroke-width="0.55"/><line x1="84.20" y1="9.08" x2="82.35" y2="16.91" stroke="#952838" stroke-width="0.55"/></g>
<g transform="translate(797.5,877.2) scale(1.0,1.01)"><use href="#liver"/><ellipse cx="10.95" cy="8.75" rx="2.76" ry="4.97" transform="rotate(20 10.95 8.75)" fill="#b8525e" opacity="0.5"/><ellipse cx="30.83" cy="13.17" rx="4.42" ry="2.43" transform="rotate(0 30.83 13.17)" fill="#b8525e" opacity="0.5"/><ellipse cx="25.31" cy="24.22" rx="4.42" ry="2.76" transform="rotate(20 25.31 24.22)" fill="#b8525e" opacity="0.5"/><ellipse cx="8.74" cy="48.51" rx="3.31" ry="4.42" transform="rotate(20 8.74 48.51)" fill="#b8525e" opacity="0.5"/><ellipse cx="66.17" cy="23.11" rx="4.42" ry="2.21" transform="rotate(0 66.17 23.11)" fill="#b8525e" opacity="0.5"/><ellipse cx="45.19" cy="31.95" rx="3.31" ry="4.42" transform="rotate(0 45.19 31.95)" fill="#b8525e" opacity="0.5"/><line x1="26.42" y1="15.38" x2="34.15" y2="20.90" stroke="#8e2a38" stroke-width="0.7"/><line x1="30.83" y1="14.28" x2="28.62" y2="22.01" stroke="#8e2a38" stroke-width="0.7"/><line x1="27.52" y1="17.59" x2="35.25" y2="18.69" stroke="#8e2a38" stroke-width="0.7"/><line x1="26.97" y1="15.38" x2="30.83" y2="21.45" stroke="#8e2a38" stroke-width="0.7"/><line x1="13.16" y1="27.53" x2="16.48" y2="41.89" stroke="#8e2a38" stroke-width="0.7"/><line x1="16.48" y1="28.63" x2="14.27" y2="41.89" stroke="#8e2a38" stroke-width="0.7"/><line x1="12.06" y1="34.15" x2="19.79" y2="33.05" stroke="#8e2a38" stroke-width="0.7"/><line x1="78.32" y1="8.75" x2="87.16" y2="14.28" stroke="#8e2a38" stroke-width="0.7"/><line x1="81.64" y1="7.65" x2="84.95" y2="15.38" stroke="#8e2a38" stroke-width="0.7"/><line x1="77.22" y1="13.17" x2="87.16" y2="10.96" stroke="#8e2a38" stroke-width="0.7"/></g>
<line x1="447.6" y1="826.7" x2="447.6" y2="840" stroke="#333" stroke-width="1.6"/><path d="M442.6,838.4 L452.6,838.4 L447.6,848Z" fill="#333"/>
<line x1="447.6" y1="943.3" x2="447.6" y2="957" stroke="#333" stroke-width="1.6"/><path d="M442.6,944.9 L452.6,944.9 L447.6,935.3Z" fill="#333"/>
<line x1="935.6" y1="935.2" x2="935.6" y2="949.2" stroke="#333" stroke-width="1.6"/><path d="M930.6,947.6 L940.6,947.6 L935.6,957.2Z" fill="#333"/>
</svg></body></html>
